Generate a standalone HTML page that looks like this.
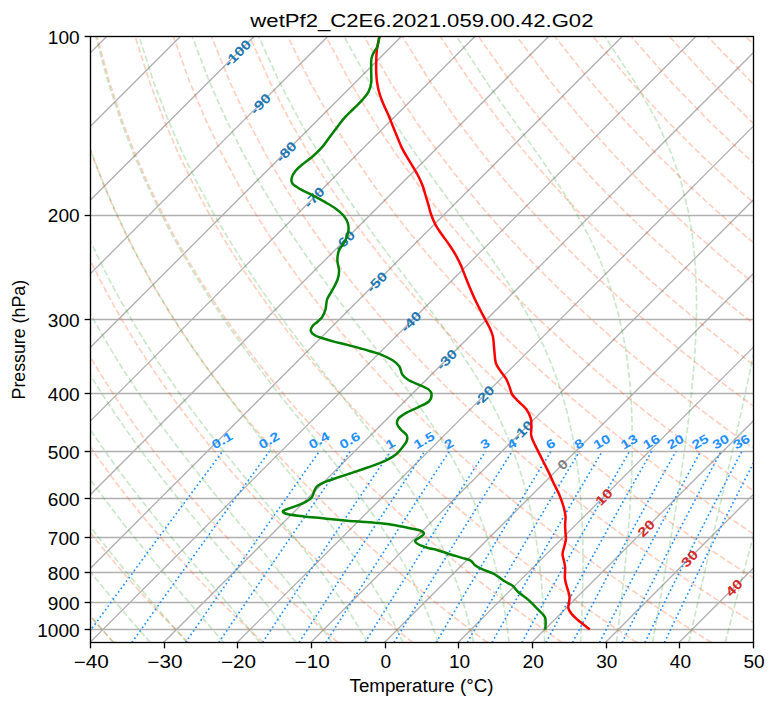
<!DOCTYPE html><html><head><meta charset="utf-8"><style>html,body{margin:0;padding:0;background:#fff;overflow:hidden}svg{display:block}</style></head><body><svg width="775" height="708" viewBox="0 0 775 708">
<style>
.g{stroke:#b0b0b0;stroke-width:1.33;fill:none}
.dry{stroke:#ff4500;stroke-opacity:0.25;stroke-width:1.67;fill:none;stroke-dasharray:6.17 2.67}
.moist{stroke:#2ca02c;stroke-opacity:0.25;stroke-width:1.67;fill:none;stroke-dasharray:6.17 2.67}
.mix{stroke:#1e90ff;stroke-width:1.67;fill:none;stroke-dasharray:1.67 2.75}
text{font-family:"Liberation Sans",sans-serif}
.tl{font-size:16.67px;fill:#000}
.ml{font-size:13.3px;font-weight:bold;fill:#1e90ff}
.il{font-size:13.3px;font-weight:bold}
</style>
<rect width="775" height="708" fill="#fff"/>
<defs><clipPath id="ax"><rect x="90.45" y="36.42" width="663.02" height="606.08"/></clipPath></defs>
<g clip-path="url(#ax)">
<line x1="-1088.55" y1="642.50" x2="-482.47" y2="36.42" class="g"/>
<line x1="-1014.90" y1="642.50" x2="-408.82" y2="36.42" class="g"/>
<line x1="-941.25" y1="642.50" x2="-335.17" y2="36.42" class="g"/>
<line x1="-867.60" y1="642.50" x2="-261.52" y2="36.42" class="g"/>
<line x1="-793.95" y1="642.50" x2="-187.87" y2="36.42" class="g"/>
<line x1="-720.30" y1="642.50" x2="-114.22" y2="36.42" class="g"/>
<line x1="-646.65" y1="642.50" x2="-40.57" y2="36.42" class="g"/>
<line x1="-573.00" y1="642.50" x2="33.08" y2="36.42" class="g"/>
<line x1="-499.35" y1="642.50" x2="106.73" y2="36.42" class="g"/>
<line x1="-425.70" y1="642.50" x2="180.38" y2="36.42" class="g"/>
<line x1="-352.05" y1="642.50" x2="254.03" y2="36.42" class="g"/>
<line x1="-278.40" y1="642.50" x2="327.68" y2="36.42" class="g"/>
<line x1="-204.75" y1="642.50" x2="401.33" y2="36.42" class="g"/>
<line x1="-131.10" y1="642.50" x2="474.98" y2="36.42" class="g"/>
<line x1="-57.45" y1="642.50" x2="548.63" y2="36.42" class="g"/>
<line x1="16.20" y1="642.50" x2="622.28" y2="36.42" class="g"/>
<line x1="89.85" y1="642.50" x2="695.93" y2="36.42" class="g"/>
<line x1="163.50" y1="642.50" x2="769.58" y2="36.42" class="g"/>
<line x1="237.15" y1="642.50" x2="843.23" y2="36.42" class="g"/>
<line x1="310.80" y1="642.50" x2="916.88" y2="36.42" class="g"/>
<line x1="384.45" y1="642.50" x2="990.53" y2="36.42" class="g"/>
<line x1="458.10" y1="642.50" x2="1064.18" y2="36.42" class="g"/>
<line x1="531.75" y1="642.50" x2="1137.83" y2="36.42" class="g"/>
<line x1="605.40" y1="642.50" x2="1211.48" y2="36.42" class="g"/>
<line x1="679.05" y1="642.50" x2="1285.13" y2="36.42" class="g"/>
<line x1="752.70" y1="642.50" x2="1358.78" y2="36.42" class="g"/>
<line x1="90.45" y1="215.50" x2="753.47" y2="215.50" class="g"/>
<line x1="90.45" y1="319.50" x2="753.47" y2="319.50" class="g"/>
<line x1="90.45" y1="393.50" x2="753.47" y2="393.50" class="g"/>
<line x1="90.45" y1="451.50" x2="753.47" y2="451.50" class="g"/>
<line x1="90.45" y1="498.50" x2="753.47" y2="498.50" class="g"/>
<line x1="90.45" y1="537.50" x2="753.47" y2="537.50" class="g"/>
<line x1="90.45" y1="572.50" x2="753.47" y2="572.50" class="g"/>
<line x1="90.45" y1="602.50" x2="753.47" y2="602.50" class="g"/>
<line x1="90.45" y1="629.50" x2="753.47" y2="629.50" class="g"/>
<polyline points="113.95,642.50 109.51,637.70 105.03,632.80 100.52,627.81 95.97,622.72 91.39,617.53 86.77,612.23 82.12,606.83 77.42,601.30 72.69,595.66 67.92,589.88 63.11,583.98 58.26,577.94 53.36,571.75 48.43,565.41 43.45,558.91 38.43,552.24 33.37,545.40 28.26,538.36 23.11,531.14 17.91,523.70 12.67,516.04 7.37,508.15 2.04,500.00 -3.35,491.60 -8.78,482.90 -14.26,473.91 -19.79,464.59 -25.36,454.92 -30.98,444.87 -36.64,434.42 -42.34,423.52 -48.08,412.14 -53.86,400.24 -59.67,387.76 -65.50,374.64 -71.35,360.83 -77.21,346.22 -83.06,330.75 -88.88,314.28 -94.66,296.69 -100.36,277.81 -105.94,257.43 -111.34,235.31 -116.49,211.11 -121.27,184.39 -125.52,154.59 -129.00,120.88 -131.31,82.10 -131.83,36.42" class="dry"/>
<polyline points="188.64,642.50 183.80,637.70 178.92,632.80 174.00,627.81 169.04,622.72 164.04,617.53 158.99,612.23 153.91,606.83 148.77,601.30 143.60,595.66 138.37,589.88 133.10,583.98 127.78,577.94 122.42,571.75 117.00,565.41 111.53,558.91 106.01,552.24 100.43,545.40 94.80,538.36 89.12,531.14 83.38,523.70 77.58,516.04 71.72,508.15 65.81,500.00 59.83,491.60 53.79,482.90 47.69,473.91 41.53,464.59 35.30,454.92 29.02,444.87 22.66,434.42 16.25,423.52 9.77,412.14 3.24,400.24 -3.36,387.76 -10.00,374.64 -16.69,360.83 -23.43,346.22 -30.19,330.75 -36.98,314.28 -43.76,296.69 -50.51,277.81 -57.20,257.43 -63.79,235.31 -70.19,211.11 -76.33,184.39 -82.04,154.59 -87.11,120.88 -91.18,82.10 -93.68,36.42" class="dry"/>
<polyline points="263.32,642.50 258.09,637.70 252.80,632.80 247.48,627.81 242.10,622.72 236.68,617.53 231.21,612.23 225.69,606.83 220.12,601.30 214.50,595.66 208.83,589.88 203.09,583.98 197.31,577.94 191.47,571.75 185.56,565.41 179.60,558.91 173.58,552.24 167.50,545.40 161.35,538.36 155.13,531.14 148.85,523.70 142.50,516.04 136.07,508.15 129.58,500.00 123.01,491.60 116.37,482.90 109.65,473.91 102.85,464.59 95.97,454.92 89.01,444.87 81.96,434.42 74.84,423.52 67.63,412.14 60.33,400.24 52.96,387.76 45.50,374.64 37.96,360.83 30.35,346.22 22.67,330.75 14.93,314.28 7.15,296.69 -0.66,277.81 -8.47,257.43 -16.23,235.31 -23.90,211.11 -31.38,184.39 -38.55,154.59 -45.22,120.88 -51.06,82.10 -55.53,36.42" class="dry"/>
<polyline points="338.01,642.50 332.37,637.70 326.69,632.80 320.96,627.81 315.17,622.72 309.33,617.53 303.43,612.23 297.48,606.83 291.47,601.30 285.41,595.66 279.28,589.88 273.09,583.98 266.83,577.94 260.52,571.75 254.13,565.41 247.68,558.91 241.15,552.24 234.56,545.40 227.89,538.36 221.14,531.14 214.32,523.70 207.41,516.04 200.42,508.15 193.35,500.00 186.19,491.60 178.94,482.90 171.60,473.91 164.16,464.59 156.63,454.92 149.00,444.87 141.26,434.42 133.43,423.52 125.48,412.14 117.43,400.24 109.27,387.76 101.00,374.64 92.61,360.83 84.13,346.22 75.53,330.75 66.84,314.28 58.05,296.69 49.19,277.81 40.27,257.43 31.32,235.31 22.40,211.11 13.57,184.39 4.93,154.59 -3.33,120.88 -10.93,82.10 -17.39,36.42" class="dry"/>
<polyline points="412.69,642.50 406.66,637.70 400.57,632.80 394.43,627.81 388.23,622.72 381.97,617.53 375.65,612.23 369.27,606.83 362.82,601.30 356.31,595.66 349.73,589.88 343.08,583.98 336.36,577.94 329.57,571.75 322.70,565.41 315.75,558.91 308.73,552.24 301.62,545.40 294.43,538.36 287.15,531.14 279.79,523.70 272.33,516.04 264.77,508.15 257.12,500.00 249.37,491.60 241.52,482.90 233.55,473.91 225.48,464.59 217.29,454.92 208.99,444.87 200.56,434.42 192.01,423.52 183.33,412.14 174.52,400.24 165.58,387.76 156.49,374.64 147.27,360.83 137.90,346.22 128.39,330.75 118.74,314.28 108.96,296.69 99.04,277.81 89.01,257.43 78.88,235.31 68.70,211.11 58.51,184.39 48.42,154.59 38.57,120.88 29.20,82.10 20.76,36.42" class="dry"/>
<polyline points="487.37,642.50 480.95,637.70 474.46,632.80 467.91,627.81 461.30,622.72 454.62,617.53 447.87,612.23 441.06,606.83 434.17,601.30 427.22,595.66 420.18,589.88 413.07,583.98 405.89,577.94 398.62,571.75 391.27,565.41 383.83,558.91 376.30,552.24 368.68,545.40 360.97,538.36 353.16,531.14 345.25,523.70 337.24,516.04 329.12,508.15 320.90,500.00 312.55,491.60 304.09,482.90 295.51,473.91 286.80,464.59 277.96,454.92 268.98,444.87 259.86,434.42 250.60,423.52 241.19,412.14 231.62,400.24 221.89,387.76 211.99,374.64 201.92,360.83 191.68,346.22 181.26,330.75 170.65,314.28 159.86,296.69 148.89,277.81 137.74,257.43 126.44,235.31 114.99,211.11 103.46,184.39 91.91,154.59 80.46,120.88 69.33,82.10 58.91,36.42" class="dry"/>
<polyline points="562.06,642.50 555.23,637.70 548.35,632.80 541.39,627.81 534.36,622.72 527.26,617.53 520.09,612.23 512.85,606.83 505.52,601.30 498.12,595.66 490.64,589.88 483.07,583.98 475.41,577.94 467.67,571.75 459.83,565.41 451.90,558.91 443.87,552.24 435.75,545.40 427.51,538.36 419.17,531.14 410.72,523.70 402.16,516.04 393.47,508.15 384.67,500.00 375.73,491.60 366.67,482.90 357.46,473.91 348.11,464.59 338.62,454.92 328.97,444.87 319.16,434.42 309.19,423.52 299.04,412.14 288.71,400.24 278.20,387.76 267.49,374.64 256.58,360.83 245.46,346.22 234.12,330.75 222.56,314.28 210.76,296.69 198.74,277.81 186.48,257.43 173.99,235.31 161.29,211.11 148.41,184.39 135.39,154.59 122.35,120.88 109.46,82.10 97.05,36.42" class="dry"/>
<polyline points="636.74,642.50 629.52,637.70 622.23,632.80 614.87,627.81 607.43,622.72 599.91,617.53 592.31,612.23 584.63,606.83 576.87,601.30 569.02,595.66 561.09,589.88 553.06,583.98 544.94,577.94 536.72,571.75 528.40,565.41 519.98,558.91 511.45,552.24 502.81,545.40 494.06,538.36 485.19,531.14 476.19,523.70 467.07,516.04 457.82,508.15 448.44,500.00 438.91,491.60 429.24,482.90 419.41,473.91 409.43,464.59 399.28,454.92 388.96,444.87 378.46,434.42 367.78,423.52 356.90,412.14 345.81,400.24 334.51,387.76 322.99,374.64 311.23,360.83 299.23,346.22 286.98,330.75 274.46,314.28 261.67,296.69 248.59,277.81 235.22,257.43 221.55,235.31 207.59,211.11 193.35,184.39 178.88,154.59 164.24,120.88 149.58,82.10 135.20,36.42" class="dry"/>
<polyline points="711.43,642.50 703.81,637.70 696.12,632.80 688.34,627.81 680.49,622.72 672.55,617.53 664.53,612.23 656.42,606.83 648.22,601.30 639.93,595.66 631.54,589.88 623.05,583.98 614.46,577.94 605.77,571.75 596.97,565.41 588.05,558.91 579.02,552.24 569.87,545.40 560.60,538.36 551.20,531.14 541.66,523.70 531.99,516.04 522.17,508.15 512.21,500.00 502.09,491.60 491.81,482.90 481.37,473.91 470.75,464.59 459.95,454.92 448.95,444.87 437.76,434.42 426.37,423.52 414.75,412.14 402.91,400.24 390.82,387.76 378.49,374.64 365.89,360.83 353.01,346.22 339.84,330.75 326.37,314.28 312.57,296.69 298.44,277.81 283.95,257.43 269.10,235.31 253.88,211.11 238.30,184.39 222.36,154.59 206.13,120.88 189.71,82.10 173.35,36.42" class="dry"/>
<polyline points="786.11,642.50 778.10,637.70 770.00,632.80 761.82,627.81 753.56,622.72 745.20,617.53 736.75,612.23 728.21,606.83 719.57,601.30 710.83,595.66 701.99,589.88 693.05,583.98 683.99,577.94 674.82,571.75 665.53,565.41 656.13,558.91 646.60,552.24 636.93,545.40 627.14,538.36 617.21,531.14 607.13,523.70 596.90,516.04 586.52,508.15 575.98,500.00 565.27,491.60 554.39,482.90 543.32,473.91 532.06,464.59 520.61,454.92 508.95,444.87 497.06,434.42 484.95,423.52 472.60,412.14 460.00,400.24 447.13,387.76 433.99,374.64 420.54,360.83 406.79,346.22 392.71,330.75 378.27,314.28 363.48,296.69 348.29,277.81 332.69,257.43 316.66,235.31 300.18,211.11 283.24,184.39 265.85,154.59 248.02,120.88 229.84,82.10 211.50,36.42" class="dry"/>
<polyline points="860.79,642.50 852.38,637.70 843.89,632.80 835.30,627.81 826.62,622.72 817.84,617.53 808.97,612.23 800.00,606.83 790.92,601.30 781.74,595.66 772.45,589.88 763.04,583.98 753.52,577.94 743.87,571.75 734.10,565.41 724.20,558.91 714.17,552.24 704.00,545.40 693.68,538.36 683.22,531.14 672.60,523.70 661.82,516.04 650.87,508.15 639.75,500.00 628.45,491.60 616.96,482.90 605.28,473.91 593.38,464.59 581.27,454.92 568.94,444.87 556.36,434.42 543.54,423.52 530.46,412.14 517.10,400.24 503.44,387.76 489.48,374.64 475.20,360.83 460.57,346.22 445.57,330.75 430.18,314.28 414.38,296.69 398.14,277.81 381.42,257.43 364.21,235.31 346.48,211.11 328.19,184.39 309.33,154.59 289.91,120.88 269.97,82.10 249.64,36.42" class="dry"/>
<polyline points="935.48,642.50 926.67,637.70 917.77,632.80 908.78,627.81 899.68,622.72 890.49,617.53 881.19,612.23 871.79,606.83 862.27,601.30 852.64,595.66 842.90,589.88 833.03,583.98 823.04,577.94 812.92,571.75 802.67,565.41 792.28,558.91 781.74,552.24 771.06,545.40 760.22,538.36 749.23,531.14 738.07,523.70 726.74,516.04 715.22,508.15 703.53,500.00 691.63,491.60 679.54,482.90 667.23,473.91 654.70,464.59 641.94,454.92 628.93,444.87 615.66,434.42 602.13,423.52 588.31,412.14 574.19,400.24 559.76,387.76 544.98,374.64 529.85,360.83 514.34,346.22 498.43,330.75 482.09,314.28 465.28,296.69 447.99,277.81 430.16,257.43 411.77,235.31 392.78,211.11 373.14,184.39 352.82,154.59 331.80,120.88 310.09,82.10 287.79,36.42" class="dry"/>
<polyline points="1010.16,642.50 1000.96,637.70 991.66,632.80 982.25,627.81 972.75,622.72 963.14,617.53 953.41,612.23 943.58,606.83 933.62,601.30 923.55,595.66 913.35,589.88 903.03,583.98 892.57,577.94 881.97,571.75 871.23,565.41 860.35,558.91 849.32,552.24 838.12,545.40 826.77,538.36 815.24,531.14 803.54,523.70 791.65,516.04 779.57,508.15 767.30,500.00 754.81,491.60 742.11,482.90 729.18,473.91 716.02,464.59 702.60,454.92 688.92,444.87 674.96,434.42 660.72,423.52 646.16,412.14 631.29,400.24 616.07,387.76 600.48,374.64 584.51,360.83 568.12,346.22 551.29,330.75 533.99,314.28 516.19,296.69 497.84,277.81 478.90,257.43 459.33,235.31 439.07,211.11 418.08,184.39 396.31,154.59 373.69,120.88 350.22,82.10 325.94,36.42" class="dry"/>
<polyline points="1084.85,642.50 1075.25,637.70 1065.54,632.80 1055.73,627.81 1045.81,622.72 1035.78,617.53 1025.63,612.23 1015.36,606.83 1004.97,601.30 994.45,595.66 983.80,589.88 973.02,583.98 962.09,577.94 951.02,571.75 939.80,565.41 928.43,558.91 916.89,552.24 905.19,545.40 893.31,538.36 881.25,531.14 869.01,523.70 856.57,516.04 843.92,508.15 831.07,500.00 817.99,491.60 804.69,482.90 791.14,473.91 777.33,464.59 763.26,454.92 748.91,444.87 734.26,434.42 719.31,423.52 704.02,412.14 688.38,400.24 672.38,387.76 655.98,374.64 639.16,360.83 621.90,346.22 604.16,330.75 585.90,314.28 567.09,296.69 547.69,277.81 527.63,257.43 506.88,235.31 485.37,211.11 463.03,184.39 439.79,154.59 415.58,120.88 390.35,82.10 364.08,36.42" class="dry"/>
<polyline points="1159.53,642.50 1149.53,637.70 1139.43,632.80 1129.21,627.81 1118.88,622.72 1108.43,617.53 1097.85,612.23 1087.15,606.83 1076.32,601.30 1065.36,595.66 1054.26,589.88 1043.01,583.98 1031.62,577.94 1020.07,571.75 1008.37,565.41 996.50,558.91 984.46,552.24 972.25,545.40 959.85,538.36 947.26,531.14 934.48,523.70 921.48,516.04 908.27,508.15 894.84,500.00 881.17,491.60 867.26,482.90 853.09,473.91 838.65,464.59 823.92,454.92 808.90,444.87 793.56,434.42 777.89,423.52 761.87,412.14 745.48,400.24 728.69,387.76 711.48,374.64 693.82,360.83 675.68,346.22 657.02,330.75 637.81,314.28 617.99,296.69 597.53,277.81 576.37,257.43 554.44,235.31 531.67,211.11 507.98,184.39 483.28,154.59 457.47,120.88 430.48,82.10 402.23,36.42" class="dry"/>
<polyline points="1234.21,642.50 1223.82,637.70 1213.31,632.80 1202.69,627.81 1191.94,622.72 1181.07,617.53 1170.07,612.23 1158.94,606.83 1147.67,601.30 1136.26,595.66 1124.71,589.88 1113.00,583.98 1101.14,577.94 1089.12,571.75 1076.94,565.41 1064.58,558.91 1052.04,552.24 1039.31,545.40 1026.39,538.36 1013.27,531.14 999.94,523.70 986.40,516.04 972.62,508.15 958.61,500.00 944.35,491.60 929.83,482.90 915.04,473.91 899.97,464.59 884.59,454.92 868.89,444.87 852.86,434.42 836.48,423.52 819.73,412.14 802.57,400.24 785.00,387.76 766.98,374.64 748.47,360.83 729.45,346.22 709.88,330.75 689.71,314.28 668.90,296.69 647.38,277.81 625.11,257.43 601.99,235.31 577.96,211.11 552.92,184.39 526.76,154.59 499.37,120.88 470.61,82.10 440.38,36.42" class="dry"/>
<polyline points="1308.90,642.50 1298.11,637.70 1287.20,632.80 1276.17,627.81 1265.01,622.72 1253.72,617.53 1242.29,612.23 1230.73,606.83 1219.02,601.30 1207.17,595.66 1195.16,589.88 1183.00,583.98 1170.67,577.94 1158.17,571.75 1145.50,565.41 1132.65,558.91 1119.61,552.24 1106.37,545.40 1092.93,538.36 1079.28,531.14 1065.41,523.70 1051.31,516.04 1036.97,508.15 1022.38,500.00 1007.53,491.60 992.41,482.90 977.00,473.91 961.28,464.59 945.25,454.92 928.88,444.87 912.16,434.42 895.07,423.52 877.58,412.14 859.67,400.24 841.31,387.76 822.47,374.64 803.13,360.83 783.23,346.22 762.74,330.75 741.62,314.28 719.80,296.69 697.23,277.81 673.84,257.43 649.55,235.31 624.26,211.11 597.87,184.39 570.25,154.59 541.26,120.88 510.73,82.10 478.52,36.42" class="dry"/>
<polyline points="1383.58,642.50 1372.39,637.70 1361.08,632.80 1349.64,627.81 1338.07,622.72 1326.36,617.53 1314.51,612.23 1302.52,606.83 1290.37,601.30 1278.07,595.66 1265.61,589.88 1252.99,583.98 1240.20,577.94 1227.22,571.75 1214.07,565.41 1200.72,558.91 1187.18,552.24 1173.44,545.40 1159.48,538.36 1145.29,531.14 1130.88,523.70 1116.23,516.04 1101.32,508.15 1086.16,500.00 1070.71,491.60 1054.98,482.90 1038.95,473.91 1022.60,464.59 1005.91,454.92 988.87,444.87 971.46,434.42 953.66,423.52 935.43,412.14 916.76,400.24 897.62,387.76 877.97,374.64 857.78,360.83 837.01,346.22 815.61,330.75 793.53,314.28 770.71,296.69 747.08,277.81 722.58,257.43 697.11,235.31 670.56,211.11 642.81,184.39 613.73,154.59 583.15,120.88 550.86,82.10 516.67,36.42" class="dry"/>
<polyline points="1458.26,642.50 1446.68,637.70 1434.97,632.80 1423.12,627.81 1411.14,622.72 1399.01,617.53 1386.73,612.23 1374.31,606.83 1361.72,601.30 1348.98,595.66 1336.07,589.88 1322.98,583.98 1309.72,577.94 1296.28,571.75 1282.64,565.41 1268.80,558.91 1254.76,552.24 1240.50,545.40 1226.02,538.36 1211.31,531.14 1196.35,523.70 1181.14,516.04 1165.67,508.15 1149.93,500.00 1133.89,491.60 1117.56,482.90 1100.90,473.91 1083.92,464.59 1066.58,454.92 1048.87,444.87 1030.76,434.42 1012.25,423.52 993.29,412.14 973.86,400.24 953.93,387.76 933.47,374.64 912.44,360.83 890.78,346.22 868.47,330.75 845.43,314.28 821.61,296.69 796.93,277.81 771.32,257.43 744.66,235.31 716.86,211.11 687.76,184.39 657.22,154.59 625.04,120.88 590.99,82.10 554.82,36.42" class="dry"/>
<polyline points="1532.95,642.50 1520.97,637.70 1508.85,632.80 1496.60,627.81 1484.20,622.72 1471.65,617.53 1458.95,612.23 1446.09,606.83 1433.07,601.30 1419.88,595.66 1406.52,589.88 1392.98,583.98 1379.25,577.94 1365.33,571.75 1351.20,565.41 1336.87,558.91 1322.33,552.24 1307.56,545.40 1292.56,538.36 1277.32,531.14 1261.82,523.70 1246.06,516.04 1230.02,508.15 1213.70,500.00 1197.07,491.60 1180.13,482.90 1162.86,473.91 1145.23,464.59 1127.24,454.92 1108.86,444.87 1090.06,434.42 1070.83,423.52 1051.14,412.14 1030.96,400.24 1010.24,387.76 988.97,374.64 967.09,360.83 944.56,346.22 921.33,330.75 897.34,314.28 872.51,296.69 846.78,277.81 820.05,257.43 792.22,235.31 763.15,211.11 732.71,184.39 700.70,154.59 666.93,120.88 631.12,82.10 592.96,36.42" class="dry"/>
<polyline points="1607.63,642.50 1595.26,637.70 1582.74,632.80 1570.08,627.81 1557.26,622.72 1544.30,617.53 1531.17,612.23 1517.88,606.83 1504.42,601.30 1490.79,595.66 1476.97,589.88 1462.97,583.98 1448.77,577.94 1434.38,571.75 1419.77,565.41 1404.95,558.91 1389.90,552.24 1374.62,545.40 1359.10,538.36 1343.33,531.14 1327.29,523.70 1310.98,516.04 1294.37,508.15 1277.47,500.00 1260.25,491.60 1242.71,482.90 1224.81,473.91 1206.55,464.59 1187.90,454.92 1168.85,444.87 1149.36,434.42 1129.42,423.52 1108.99,412.14 1088.05,400.24 1066.55,387.76 1044.47,374.64 1021.75,360.83 998.34,346.22 974.19,330.75 949.24,314.28 923.42,296.69 896.63,277.81 868.79,257.43 839.77,235.31 809.45,211.11 777.65,184.39 744.19,154.59 708.82,120.88 671.25,82.10 631.11,36.42" class="dry"/>
<polyline points="1682.32,642.50 1669.54,637.70 1656.62,632.80 1643.55,627.81 1630.33,622.72 1616.94,617.53 1603.39,612.23 1589.67,606.83 1575.77,601.30 1561.69,595.66 1547.43,589.88 1532.96,583.98 1518.30,577.94 1503.43,571.75 1488.34,565.41 1473.02,558.91 1457.48,552.24 1441.69,545.40 1425.64,538.36 1409.34,531.14 1392.76,523.70 1375.89,516.04 1358.72,508.15 1341.24,500.00 1323.44,491.60 1305.28,482.90 1286.76,473.91 1267.87,464.59 1248.57,454.92 1228.84,444.87 1208.66,434.42 1188.01,423.52 1166.85,412.14 1145.15,400.24 1122.87,387.76 1099.97,374.64 1076.40,360.83 1052.12,346.22 1027.06,330.75 1001.15,314.28 974.32,296.69 946.48,277.81 917.53,257.43 887.33,235.31 855.75,211.11 822.60,184.39 787.68,154.59 750.71,120.88 711.37,82.10 669.26,36.42" class="dry"/>
<polyline points="1757.00,642.50 1743.83,637.70 1730.51,632.80 1717.03,627.81 1703.39,622.72 1689.59,617.53 1675.61,612.23 1661.46,606.83 1647.12,601.30 1632.60,595.66 1617.88,589.88 1602.96,583.98 1587.83,577.94 1572.48,571.75 1556.90,565.41 1541.10,558.91 1525.05,552.24 1508.75,545.40 1492.19,538.36 1475.35,531.14 1458.23,523.70 1440.81,516.04 1423.07,508.15 1405.02,500.00 1386.62,491.60 1367.86,482.90 1348.72,473.91 1329.18,464.59 1309.23,454.92 1288.83,444.87 1267.96,434.42 1246.60,423.52 1224.70,412.14 1202.24,400.24 1179.18,387.76 1155.46,374.64 1131.05,360.83 1105.89,346.22 1079.92,330.75 1053.06,314.28 1025.23,296.69 996.33,277.81 966.26,257.43 934.89,235.31 902.04,211.11 867.55,184.39 831.16,154.59 792.60,120.88 751.50,82.10 707.40,36.42" class="dry"/>
<polyline points="1831.68,642.50 1818.12,637.70 1804.39,632.80 1790.51,627.81 1776.46,622.72 1762.23,617.53 1747.83,612.23 1733.25,606.83 1718.47,601.30 1703.50,595.66 1688.33,589.88 1672.95,583.98 1657.35,577.94 1641.53,571.75 1625.47,565.41 1609.17,558.91 1592.62,552.24 1575.81,545.40 1558.73,538.36 1541.36,531.14 1523.70,523.70 1505.72,516.04 1487.42,508.15 1468.79,500.00 1449.80,491.60 1430.43,482.90 1410.67,473.91 1390.50,464.59 1369.89,454.92 1348.82,444.87 1327.26,434.42 1305.19,423.52 1282.56,412.14 1259.34,400.24 1235.49,387.76 1210.96,374.64 1185.71,360.83 1159.67,346.22 1132.78,330.75 1104.96,314.28 1076.13,296.69 1046.18,277.81 1015.00,257.43 982.44,235.31 948.34,211.11 912.49,184.39 874.65,154.59 834.49,120.88 791.63,82.10 745.55,36.42" class="dry"/>
<polyline points="1906.37,642.50 1892.41,637.70 1878.28,632.80 1863.99,627.81 1849.52,622.72 1834.88,617.53 1820.05,612.23 1805.03,606.83 1789.82,601.30 1774.41,595.66 1758.78,589.88 1742.94,583.98 1726.88,577.94 1710.58,571.75 1694.04,565.41 1677.25,558.91 1660.20,552.24 1642.87,545.40 1625.27,538.36 1607.37,531.14 1589.16,523.70 1570.64,516.04 1551.77,508.15 1532.56,500.00 1512.98,491.60 1493.00,482.90 1472.63,473.91 1451.82,464.59 1430.55,454.92 1408.81,444.87 1386.56,434.42 1363.77,423.52 1340.41,412.14 1316.43,400.24 1291.80,387.76 1266.46,374.64 1240.36,360.83 1213.45,346.22 1185.64,330.75 1156.87,314.28 1127.03,296.69 1096.03,277.81 1063.74,257.43 1030.00,235.31 994.64,211.11 957.44,184.39 918.13,154.59 876.38,120.88 831.76,82.10 783.70,36.42" class="dry"/>
<polyline points="1981.05,642.50 1966.69,637.70 1952.17,632.80 1937.46,627.81 1922.59,622.72 1907.52,617.53 1892.27,612.23 1876.82,606.83 1861.17,601.30 1845.31,595.66 1829.24,589.88 1812.94,583.98 1796.40,577.94 1779.63,571.75 1762.61,565.41 1745.32,558.91 1727.77,552.24 1709.94,545.40 1691.81,538.36 1673.38,531.14 1654.63,523.70 1635.55,516.04 1616.12,508.15 1596.33,500.00 1576.16,491.60 1555.58,482.90 1534.58,473.91 1513.13,464.59 1491.22,454.92 1468.80,444.87 1445.86,434.42 1422.36,423.52 1398.26,412.14 1373.53,400.24 1348.11,387.76 1321.96,374.64 1295.02,360.83 1267.23,346.22 1238.51,330.75 1208.78,314.28 1177.94,296.69 1145.88,277.81 1112.47,257.43 1077.55,235.31 1040.93,211.11 1002.38,184.39 961.62,154.59 918.27,120.88 871.89,82.10 821.84,36.42" class="dry"/>
<polyline points="2055.74,642.50 2040.98,637.70 2026.05,632.80 2010.94,627.81 1995.65,622.72 1980.17,617.53 1964.49,612.23 1948.61,606.83 1932.52,601.30 1916.22,595.66 1899.69,589.88 1882.93,583.98 1865.93,577.94 1848.68,571.75 1831.17,565.41 1813.40,558.91 1795.34,552.24 1777.00,545.40 1758.35,538.36 1739.39,531.14 1720.10,523.70 1700.47,516.04 1680.47,508.15 1660.10,500.00 1639.34,491.60 1618.15,482.90 1596.53,473.91 1574.45,464.59 1551.88,454.92 1528.80,444.87 1505.16,434.42 1480.95,423.52 1456.12,412.14 1430.62,400.24 1404.42,387.76 1377.46,374.64 1349.67,360.83 1321.00,346.22 1291.37,330.75 1260.68,314.28 1228.84,296.69 1195.73,277.81 1161.21,257.43 1125.11,235.31 1087.23,211.11 1047.33,184.39 1005.10,154.59 960.16,120.88 912.01,82.10 859.99,36.42" class="dry"/>
<polyline points="2130.42,642.50 2115.27,637.70 2099.94,632.80 2084.42,627.81 2068.72,622.72 2052.81,617.53 2036.71,612.23 2020.40,606.83 2003.87,601.30 1987.12,595.66 1970.14,589.88 1952.92,583.98 1935.45,577.94 1917.73,571.75 1899.74,565.41 1881.47,558.91 1862.92,552.24 1844.06,545.40 1824.90,538.36 1805.40,531.14 1785.57,523.70 1765.38,516.04 1744.82,508.15 1723.87,500.00 1702.52,491.60 1680.73,482.90 1658.49,473.91 1635.77,464.59 1612.54,454.92 1588.79,444.87 1564.46,434.42 1539.54,423.52 1513.97,412.14 1487.72,400.24 1460.73,387.76 1432.96,374.64 1404.33,360.83 1374.78,346.22 1344.23,330.75 1312.59,314.28 1279.75,296.69 1245.58,277.81 1209.95,257.43 1172.66,235.31 1133.53,211.11 1092.28,184.39 1048.59,154.59 1002.06,120.88 952.14,82.10 898.14,36.42" class="dry"/>
<polyline points="2205.10,642.50 2189.55,637.70 2173.82,632.80 2157.90,627.81 2141.78,622.72 2125.46,617.53 2108.93,612.23 2092.19,606.83 2075.22,601.30 2058.03,595.66 2040.59,589.88 2022.91,583.98 2004.98,577.94 1986.78,571.75 1968.31,565.41 1949.55,558.91 1930.49,552.24 1911.13,545.40 1891.44,538.36 1871.41,531.14 1851.04,523.70 1830.30,516.04 1809.17,508.15 1787.65,500.00 1765.70,491.60 1743.30,482.90 1720.44,473.91 1697.08,464.59 1673.21,454.92 1648.78,444.87 1623.76,434.42 1598.13,423.52 1571.82,412.14 1544.81,400.24 1517.04,387.76 1488.45,374.64 1458.98,360.83 1428.56,346.22 1397.09,330.75 1364.49,314.28 1330.65,296.69 1295.43,277.81 1258.68,257.43 1220.22,235.31 1179.83,211.11 1137.22,184.39 1092.08,154.59 1043.95,120.88 992.27,82.10 936.28,36.42" class="dry"/>
<polyline points="2279.79,642.50 2263.84,637.70 2247.71,632.80 2231.38,627.81 2214.84,622.72 2198.10,617.53 2181.15,612.23 2163.98,606.83 2146.57,601.30 2128.93,595.66 2111.05,589.88 2092.91,583.98 2074.51,577.94 2055.83,571.75 2036.87,565.41 2017.62,558.91 1998.06,552.24 1978.19,545.40 1957.98,538.36 1937.43,531.14 1916.51,523.70 1895.21,516.04 1873.52,508.15 1851.42,500.00 1828.88,491.60 1805.88,482.90 1782.39,473.91 1758.40,464.59 1733.87,454.92 1708.77,444.87 1683.06,434.42 1656.71,423.52 1629.68,412.14 1601.91,400.24 1573.35,387.76 1543.95,374.64 1513.64,360.83 1482.34,346.22 1449.96,330.75 1416.40,314.28 1381.55,296.69 1345.28,277.81 1307.42,257.43 1267.78,235.31 1226.12,211.11 1182.17,184.39 1135.56,154.59 1085.84,120.88 1032.40,82.10 974.43,36.42" class="dry"/>
<polyline points="113.29,642.50 109.12,637.70 104.90,632.80 100.62,627.81 96.28,622.72 91.89,617.53 87.45,612.23 82.95,606.83 78.39,601.30 73.79,595.66 69.13,589.88 64.42,583.98 59.65,577.94 54.83,571.75 49.96,565.41 45.04,558.91 40.07,552.24 35.04,545.40 29.96,538.36 24.83,531.14 19.65,523.70 14.42,516.04 9.14,508.15 3.80,500.00 -1.59,491.60 -7.02,482.90 -12.51,473.91 -18.04,464.59 -23.63,454.92 -29.26,444.87 -34.94,434.42 -40.66,423.52 -46.42,412.14 -52.22,400.24 -58.04,387.76 -63.90,374.64 -69.77,360.83 -75.66,346.22 -81.53,330.75 -87.39,314.28 -93.19,296.69 -98.92,277.81 -104.54,257.43 -109.97,235.31 -115.16,211.11 -119.98,184.39 -124.27,154.59 -127.79,120.88 -130.16,82.10 -130.73,36.42" class="moist"/>
<polyline points="150.25,642.50 146.04,637.70 141.76,632.80 137.41,627.81 133.00,622.72 128.52,617.53 123.97,612.23 119.35,606.83 114.67,601.30 109.93,595.66 105.12,589.88 100.24,583.98 95.30,577.94 90.30,571.75 85.23,565.41 80.11,558.91 74.92,552.24 69.66,545.40 64.35,538.36 58.97,531.14 53.54,523.70 48.04,516.04 42.48,508.15 36.86,500.00 31.18,491.60 25.44,482.90 19.64,473.91 13.78,464.59 7.86,454.92 1.89,444.87 -4.14,434.42 -10.23,423.52 -16.37,412.14 -22.56,400.24 -28.80,387.76 -35.07,374.64 -41.39,360.83 -47.72,346.22 -54.07,330.75 -60.42,314.28 -66.75,296.69 -73.03,277.81 -79.22,257.43 -85.27,235.31 -91.11,211.11 -96.63,184.39 -101.68,154.59 -106.03,120.88 -109.31,82.10 -110.91,36.42" class="moist"/>
<polyline points="187.04,642.50 182.85,637.70 178.58,632.80 174.23,627.81 169.80,622.72 165.28,617.53 160.69,612.23 156.01,606.83 151.25,601.30 146.41,595.66 141.49,589.88 136.49,583.98 131.41,577.94 126.26,571.75 121.03,565.41 115.72,558.91 110.34,552.24 104.88,545.40 99.35,538.36 93.74,531.14 88.06,523.70 82.31,516.04 76.48,508.15 70.58,500.00 64.61,491.60 58.57,482.90 52.46,473.91 46.27,464.59 40.02,454.92 33.70,444.87 27.31,434.42 20.85,423.52 14.32,412.14 7.73,400.24 1.08,387.76 -5.62,374.64 -12.38,360.83 -19.19,346.22 -26.02,330.75 -32.88,314.28 -39.74,296.69 -46.58,277.81 -53.36,257.43 -60.03,235.31 -66.54,211.11 -72.78,184.39 -78.60,154.59 -83.80,120.88 -88.02,82.10 -90.67,36.42" class="moist"/>
<polyline points="223.61,642.50 219.54,637.70 215.36,632.80 211.09,627.81 206.72,622.72 202.24,617.53 197.67,612.23 193.00,606.83 188.23,601.30 183.36,595.66 178.40,589.88 173.33,583.98 168.17,577.94 162.91,571.75 157.56,565.41 152.11,558.91 146.58,552.24 140.94,545.40 135.22,538.36 129.41,531.14 123.51,523.70 117.51,516.04 111.44,508.15 105.27,500.00 99.02,491.60 92.68,482.90 86.26,473.91 79.75,464.59 73.16,454.92 66.48,444.87 59.73,434.42 52.89,423.52 45.97,412.14 38.97,400.24 31.90,387.76 24.75,374.64 17.53,360.83 10.25,346.22 2.91,330.75 -4.47,314.28 -11.87,296.69 -19.29,277.81 -26.68,257.43 -34.00,235.31 -41.20,211.11 -48.17,184.39 -54.80,154.59 -60.87,120.88 -66.05,82.10 -69.79,36.42" class="moist"/>
<polyline points="259.94,642.50 256.07,637.70 252.09,632.80 247.99,627.81 243.77,622.72 239.44,617.53 234.99,612.23 230.42,606.83 225.73,601.30 220.92,595.66 215.99,589.88 210.95,583.98 205.78,577.94 200.49,571.75 195.09,565.41 189.57,558.91 183.93,552.24 178.18,545.40 172.32,538.36 166.34,531.14 160.25,523.70 154.05,516.04 147.75,508.15 141.33,500.00 134.82,491.60 128.19,482.90 121.47,473.91 114.64,464.59 107.71,454.92 100.68,444.87 93.56,434.42 86.33,423.52 79.00,412.14 71.58,400.24 64.07,387.76 56.46,374.64 48.77,360.83 40.99,346.22 33.13,330.75 25.21,314.28 17.23,296.69 9.21,277.81 1.18,257.43 -6.81,235.31 -14.73,211.11 -22.48,184.39 -29.94,154.59 -36.92,120.88 -43.11,82.10 -47.98,36.42" class="moist"/>
<polyline points="296.00,642.50 292.43,637.70 288.74,632.80 284.93,627.81 280.98,622.72 276.90,617.53 272.69,612.23 268.34,606.83 263.85,601.30 259.22,595.66 254.44,589.88 249.53,583.98 244.46,577.94 239.25,571.75 233.90,565.41 228.40,558.91 222.76,552.24 216.97,545.40 211.04,538.36 204.97,531.14 198.76,523.70 192.41,516.04 185.92,508.15 179.30,500.00 172.55,491.60 165.67,482.90 158.66,473.91 151.53,464.59 144.27,454.92 136.89,444.87 129.39,434.42 121.77,423.52 114.02,412.14 106.17,400.24 98.19,387.76 90.11,374.64 81.91,360.83 73.60,346.22 65.20,330.75 56.69,314.28 48.11,296.69 39.45,277.81 30.75,257.43 22.04,235.31 13.36,211.11 4.79,184.39 -3.56,154.59 -11.50,120.88 -18.76,82.10 -24.83,36.42" class="moist"/>
<polyline points="331.80,642.50 328.64,637.70 325.34,632.80 321.92,627.81 318.35,622.72 314.65,617.53 310.80,612.23 306.80,606.83 302.65,601.30 298.33,595.66 293.85,589.88 289.21,583.98 284.40,577.94 279.41,571.75 274.25,565.41 268.91,558.91 263.39,552.24 257.70,545.40 251.83,538.36 245.78,531.14 239.55,523.70 233.14,516.04 226.57,508.15 219.82,500.00 212.90,491.60 205.82,482.90 198.57,473.91 191.16,464.59 183.60,454.92 175.88,444.87 168.01,434.42 159.99,423.52 151.83,412.14 143.52,400.24 135.06,387.76 126.47,374.64 117.74,360.83 108.87,346.22 99.87,330.75 90.75,314.28 81.51,296.69 72.16,277.81 62.73,257.43 53.25,235.31 43.74,211.11 34.29,184.39 24.98,154.59 15.99,120.88 7.57,82.10 0.20,36.42" class="moist"/>
<polyline points="367.39,642.50 364.70,637.70 361.89,632.80 358.95,627.81 355.87,622.72 352.66,617.53 349.29,612.23 345.78,606.83 342.10,601.30 338.25,595.66 334.23,589.88 330.03,583.98 325.64,577.94 321.06,571.75 316.27,565.41 311.28,558.91 306.09,552.24 300.67,545.40 295.04,538.36 289.19,531.14 283.12,523.70 276.83,516.04 270.31,508.15 263.57,500.00 256.61,491.60 249.44,482.90 242.05,473.91 234.45,464.59 226.64,454.92 218.64,444.87 210.43,434.42 202.04,423.52 193.45,412.14 184.68,400.24 175.73,387.76 166.60,374.64 157.30,360.83 147.83,346.22 138.19,330.75 128.39,314.28 118.43,296.69 108.33,277.81 98.09,257.43 87.75,235.31 77.34,211.11 66.90,184.39 56.54,154.59 46.38,120.88 36.69,82.10 27.88,36.42" class="moist"/>
<polyline points="402.82,642.50 400.66,637.70 398.39,632.80 396.01,627.81 393.50,622.72 390.86,617.53 388.09,612.23 385.17,606.83 382.09,601.30 378.85,595.66 375.44,589.88 371.85,583.98 368.07,577.94 364.09,571.75 359.89,565.41 355.48,558.91 350.83,552.24 345.94,545.40 340.81,538.36 335.41,531.14 329.76,523.70 323.83,516.04 317.62,508.15 311.13,500.00 304.36,491.60 297.31,482.90 289.97,473.91 282.35,464.59 274.46,454.92 266.29,444.87 257.86,434.42 249.16,423.52 240.21,412.14 231.01,400.24 221.57,387.76 211.90,374.64 202.00,360.83 191.88,346.22 181.54,330.75 170.99,314.28 160.23,296.69 149.28,277.81 138.14,257.43 126.83,235.31 115.38,211.11 103.84,184.39 92.28,154.59 80.81,120.88 69.67,82.10 59.23,36.42" class="moist"/>
<polyline points="438.20,642.50 436.58,637.70 434.88,632.80 433.08,627.81 431.18,622.72 429.17,617.53 427.05,612.23 424.80,606.83 422.41,601.30 419.88,595.66 417.20,589.88 414.36,583.98 411.33,577.94 408.12,571.75 404.71,565.41 401.09,558.91 397.24,552.24 393.14,545.40 388.79,538.36 384.16,531.14 379.24,523.70 374.02,516.04 368.49,508.15 362.62,500.00 356.41,491.60 349.84,482.90 342.91,473.91 335.61,464.59 327.94,454.92 319.90,444.87 311.49,434.42 302.71,423.52 293.57,412.14 284.08,400.24 274.25,387.76 264.09,374.64 253.61,360.83 242.82,346.22 231.74,330.75 220.37,314.28 208.73,296.69 196.81,277.81 184.64,257.43 172.22,235.31 159.58,211.11 146.75,184.39 133.79,154.59 120.81,120.88 107.98,82.10 95.65,36.42" class="moist"/>
<polyline points="473.59,642.50 472.51,637.70 471.37,632.80 470.16,627.81 468.86,622.72 467.49,617.53 466.03,612.23 464.47,606.83 462.80,601.30 461.02,595.66 459.12,589.88 457.09,583.98 454.91,577.94 452.58,571.75 450.08,565.41 447.40,558.91 444.52,552.24 441.43,545.40 438.10,538.36 434.52,531.14 430.66,523.70 426.52,516.04 422.05,508.15 417.24,500.00 412.06,491.60 406.49,482.90 400.50,473.91 394.08,464.59 387.19,454.92 379.83,444.87 371.97,434.42 363.60,423.52 354.72,412.14 345.34,400.24 335.45,387.76 325.06,374.64 314.20,360.83 302.88,346.22 291.11,330.75 278.92,314.28 266.32,296.69 253.34,277.81 239.98,257.43 226.28,235.31 212.24,211.11 197.89,184.39 183.27,154.59 168.48,120.88 153.65,82.10 139.06,36.42" class="moist"/>
<polyline points="509.07,642.50 508.50,637.70 507.88,632.80 507.22,627.81 506.50,622.72 505.73,617.53 504.89,612.23 503.99,606.83 503.02,601.30 501.97,595.66 500.84,589.88 499.61,583.98 498.28,577.94 496.83,571.75 495.27,565.41 493.57,558.91 491.72,552.24 489.71,545.40 487.53,538.36 485.14,531.14 482.54,523.70 479.69,516.04 476.58,508.15 473.18,500.00 469.45,491.60 465.37,482.90 460.89,473.91 455.97,464.59 450.58,454.92 444.67,444.87 438.20,434.42 431.12,423.52 423.40,412.14 414.99,400.24 405.87,387.76 396.02,374.64 385.44,360.83 374.12,346.22 362.08,330.75 349.35,314.28 335.96,296.69 321.95,277.81 307.34,257.43 292.19,235.31 276.52,211.11 260.35,184.39 243.74,154.59 226.75,120.88 209.47,82.10 192.13,36.42" class="moist"/>
<polyline points="544.69,642.50 544.57,637.70 544.42,632.80 544.25,627.81 544.05,622.72 543.82,617.53 543.55,612.23 543.25,606.83 542.90,601.30 542.51,595.66 542.07,589.88 541.57,583.98 541.01,577.94 540.39,571.75 539.69,565.41 538.91,558.91 538.03,552.24 537.05,545.40 535.96,538.36 534.74,531.14 533.38,523.70 531.86,516.04 530.15,508.15 528.25,500.00 526.12,491.60 523.72,482.90 521.04,473.91 518.02,464.59 514.63,454.92 510.80,444.87 506.49,434.42 501.63,423.52 496.15,412.14 489.96,400.24 482.98,387.76 475.12,374.64 466.30,360.83 456.45,346.22 445.50,330.75 433.42,314.28 420.19,296.69 405.84,277.81 390.42,257.43 373.99,235.31 356.63,211.11 338.42,184.39 319.43,154.59 299.73,120.88 279.41,82.10 258.63,36.42" class="moist"/>
<polyline points="580.48,642.50 580.74,637.70 581.00,632.80 581.26,627.81 581.50,622.72 581.73,617.53 581.95,612.23 582.16,606.83 582.35,601.30 582.52,595.66 582.67,589.88 582.80,583.98 582.90,577.94 582.97,571.75 583.01,565.41 583.01,558.91 582.97,552.24 582.88,545.40 582.74,538.36 582.53,531.14 582.25,523.70 581.88,516.04 581.43,508.15 580.86,500.00 580.17,491.60 579.34,482.90 578.35,473.91 577.16,464.59 575.75,454.92 574.08,444.87 572.11,434.42 569.78,423.52 567.03,412.14 563.78,400.24 559.94,387.76 555.41,374.64 550.04,360.83 543.69,346.22 536.18,330.75 527.33,314.28 516.93,296.69 504.80,277.81 490.80,257.43 474.86,235.31 457.01,211.11 437.34,184.39 416.02,154.59 393.26,120.88 369.22,82.10 344.08,36.42" class="moist"/>
<polyline points="616.44,642.50 617.03,637.70 617.63,632.80 618.23,627.81 618.84,622.72 619.46,617.53 620.08,612.23 620.70,606.83 621.33,601.30 621.96,595.66 622.60,589.88 623.24,583.98 623.88,577.94 624.52,571.75 625.15,565.41 625.79,558.91 626.41,552.24 627.04,545.40 627.65,538.36 628.25,531.14 628.83,523.70 629.39,516.04 629.92,508.15 630.43,500.00 630.89,491.60 631.31,482.90 631.67,473.91 631.96,464.59 632.17,454.92 632.27,444.87 632.25,434.42 632.07,423.52 631.71,412.14 631.11,400.24 630.24,387.76 629.01,374.64 627.34,360.83 625.13,346.22 622.22,330.75 618.43,314.28 613.51,296.69 607.16,277.81 598.97,257.43 588.47,235.31 575.12,211.11 558.43,184.39 538.08,154.59 514.05,120.88 486.68,82.10 456.52,36.42" class="moist"/>
<polyline points="652.56,642.50 653.42,637.70 654.29,632.80 655.18,627.81 656.08,622.72 657.00,617.53 657.95,612.23 658.90,606.83 659.88,601.30 660.88,595.66 661.90,589.88 662.93,583.98 663.99,577.94 665.07,571.75 666.17,565.41 667.29,558.91 668.44,552.24 669.60,545.40 670.79,538.36 672.01,531.14 673.24,523.70 674.50,516.04 675.78,508.15 677.08,500.00 678.40,491.60 679.74,482.90 681.10,473.91 682.47,464.59 683.85,454.92 685.24,444.87 686.63,434.42 688.01,423.52 689.38,412.14 690.71,400.24 691.99,387.76 693.20,374.64 694.30,360.83 695.26,346.22 696.00,330.75 696.46,314.28 696.51,296.69 696.01,277.81 694.71,257.43 692.28,235.31 688.21,211.11 681.74,184.39 671.76,154.59 656.72,120.88 634.80,82.10 604.75,36.42" class="moist"/>
<polyline points="688.84,642.50 689.90,637.70 690.99,632.80 692.10,627.81 693.23,622.72 694.39,617.53 695.58,612.23 696.80,606.83 698.04,601.30 699.32,595.66 700.63,589.88 701.97,583.98 703.35,577.94 704.76,571.75 706.21,565.41 707.70,558.91 709.23,552.24 710.80,545.40 712.42,538.36 714.08,531.14 715.79,523.70 717.55,516.04 719.37,508.15 721.25,500.00 723.18,491.60 725.17,482.90 727.23,473.91 729.36,464.59 731.56,454.92 733.83,444.87 736.19,434.42 738.63,423.52 741.15,412.14 743.76,400.24 746.46,387.76 749.25,374.64 752.14,360.83 755.13,346.22 758.20,330.75 761.35,314.28 764.56,296.69 767.80,277.81 771.03,257.43 774.15,235.31 777.03,211.11 779.42,184.39 780.90,154.59 780.68,120.88 777.24,82.10 767.59,36.42" class="moist"/>
<polyline points="725.25,642.50 726.47,637.70 727.71,632.80 728.99,627.81 730.30,622.72 731.64,617.53 733.02,612.23 734.43,606.83 735.87,601.30 737.36,595.66 738.88,589.88 740.45,583.98 742.06,577.94 743.72,571.75 745.42,565.41 747.18,558.91 748.99,552.24 750.85,545.40 752.77,538.36 754.76,531.14 756.81,523.70 758.94,516.04 761.13,508.15 763.41,500.00 765.77,491.60 768.22,482.90 770.76,473.91 773.40,464.59 776.16,454.92 779.03,444.87 782.02,434.42 785.15,423.52 788.43,412.14 791.87,400.24 795.48,387.76 799.27,374.64 803.27,360.83 807.50,346.22 811.98,330.75 816.73,314.28 821.77,296.69 827.16,277.81 832.91,257.43 839.07,235.31 845.69,211.11 852.79,184.39 860.40,154.59 868.49,120.88 876.92,82.10 885.19,36.42" class="moist"/>
<polyline points="761.77,642.50 763.10,637.70 764.47,632.80 765.87,627.81 767.30,622.72 768.78,617.53 770.28,612.23 771.83,606.83 773.42,601.30 775.06,595.66 776.74,589.88 778.47,583.98 780.24,577.94 782.07,571.75 783.96,565.41 785.90,558.91 787.91,552.24 789.98,545.40 792.12,538.36 794.33,531.14 796.62,523.70 798.99,516.04 801.44,508.15 803.99,500.00 806.64,491.60 809.40,482.90 812.27,473.91 815.26,464.59 818.38,454.92 821.64,444.87 825.06,434.42 828.64,423.52 832.40,412.14 836.37,400.24 840.55,387.76 844.98,374.64 849.67,360.83 854.65,346.22 859.97,330.75 865.67,314.28 871.79,296.69 878.39,277.81 885.56,257.43 893.37,235.31 901.96,211.11 911.46,184.39 922.08,154.59 934.05,120.88 947.76,82.10 963.65,36.42" class="moist"/>
<polyline points="81.66,642.50 83.68,639.73 85.72,636.93 87.78,634.10 89.87,631.24 91.98,628.34 94.12,625.41 96.28,622.45 98.47,619.46 100.68,616.43 102.92,613.36 105.19,610.26 107.49,607.11 109.81,603.93 112.17,600.71 114.56,597.45 116.98,594.15 119.43,590.80 121.91,587.41 124.43,583.98 126.99,580.50 129.58,576.97 132.21,573.39 134.87,569.76 137.58,566.08 140.33,562.35 143.11,558.56 145.94,554.72 148.82,550.82 151.74,546.85 154.71,542.83 157.72,538.74 160.79,534.59 163.91,530.36 167.08,526.07 170.31,521.70 173.60,517.26 176.94,512.75 180.35,508.15 183.82,503.46 187.35,498.69 190.96,493.83 194.63,488.88 198.39,483.83 202.21,478.68 206.12,473.43 210.12,468.06 214.20,462.58 218.37,456.98 222.64,451.26" class="mix"/>
<polyline points="131.89,642.50 133.86,639.73 135.84,636.93 137.85,634.10 139.89,631.24 141.94,628.34 144.03,625.41 146.13,622.45 148.26,619.46 150.42,616.43 152.61,613.36 154.82,610.26 157.06,607.11 159.33,603.93 161.63,600.71 163.95,597.45 166.31,594.15 168.71,590.80 171.13,587.41 173.59,583.98 176.08,580.50 178.61,576.97 181.17,573.39 183.77,569.76 186.41,566.08 189.09,562.35 191.81,558.56 194.57,554.72 197.38,550.82 200.23,546.85 203.13,542.83 206.07,538.74 209.06,534.59 212.11,530.36 215.21,526.07 218.36,521.70 221.57,517.26 224.83,512.75 228.16,508.15 231.55,503.46 235.00,498.69 238.52,493.83 242.12,488.88 245.78,483.83 249.52,478.68 253.34,473.43 257.24,468.06 261.23,462.58 265.31,456.98 269.48,451.26" class="mix"/>
<polyline points="185.61,642.50 187.51,639.73 189.44,636.93 191.40,634.10 193.37,631.24 195.37,628.34 197.39,625.41 199.44,622.45 201.51,619.46 203.60,616.43 205.73,613.36 207.88,610.26 210.05,607.11 212.26,603.93 214.49,600.71 216.75,597.45 219.05,594.15 221.37,590.80 223.73,587.41 226.12,583.98 228.54,580.50 231.00,576.97 233.49,573.39 236.02,569.76 238.58,566.08 241.19,562.35 243.84,558.56 246.52,554.72 249.25,550.82 252.03,546.85 254.84,542.83 257.71,538.74 260.62,534.59 263.58,530.36 266.60,526.07 269.67,521.70 272.79,517.26 275.97,512.75 279.21,508.15 282.51,503.46 285.87,498.69 289.30,493.83 292.80,488.88 296.37,483.83 300.01,478.68 303.73,473.43 307.53,468.06 311.42,462.58 315.39,456.98 319.46,451.26" class="mix"/>
<polyline points="218.79,642.50 220.66,639.73 222.55,636.93 224.47,634.10 226.41,631.24 228.37,628.34 230.35,625.41 232.36,622.45 234.39,619.46 236.45,616.43 238.53,613.36 240.64,610.26 242.78,607.11 244.94,603.93 247.13,600.71 249.35,597.45 251.61,594.15 253.89,590.80 256.20,587.41 258.55,583.98 260.92,580.50 263.34,576.97 265.78,573.39 268.27,569.76 270.79,566.08 273.35,562.35 275.95,558.56 278.59,554.72 281.27,550.82 283.99,546.85 286.76,542.83 289.57,538.74 292.44,534.59 295.35,530.36 298.31,526.07 301.32,521.70 304.39,517.26 307.52,512.75 310.70,508.15 313.94,503.46 317.25,498.69 320.62,493.83 324.06,488.88 327.57,483.83 331.15,478.68 334.81,473.43 338.55,468.06 342.37,462.58 346.27,456.98 350.27,451.26" class="mix"/>
<polyline points="262.59,642.50 264.42,639.73 266.26,636.93 268.12,634.10 270.01,631.24 271.92,628.34 273.85,625.41 275.81,622.45 277.79,619.46 279.79,616.43 281.82,613.36 283.88,610.26 285.96,607.11 288.07,603.93 290.21,600.71 292.37,597.45 294.57,594.15 296.79,590.80 299.05,587.41 301.33,583.98 303.65,580.50 306.00,576.97 308.39,573.39 310.81,569.76 313.27,566.08 315.77,562.35 318.30,558.56 320.88,554.72 323.49,550.82 326.15,546.85 328.85,542.83 331.60,538.74 334.39,534.59 337.23,530.36 340.12,526.07 343.06,521.70 346.06,517.26 349.11,512.75 352.22,508.15 355.39,503.46 358.61,498.69 361.91,493.83 365.26,488.88 368.69,483.83 372.19,478.68 375.77,473.43 379.42,468.06 383.15,462.58 386.97,456.98 390.88,451.26" class="mix"/>
<polyline points="299.05,642.50 300.83,639.73 302.63,636.93 304.46,634.10 306.30,631.24 308.17,628.34 310.05,625.41 311.97,622.45 313.90,619.46 315.86,616.43 317.85,613.36 319.85,610.26 321.89,607.11 323.95,603.93 326.04,600.71 328.16,597.45 330.30,594.15 332.48,590.80 334.68,587.41 336.92,583.98 339.19,580.50 341.49,576.97 343.83,573.39 346.20,569.76 348.60,566.08 351.04,562.35 353.53,558.56 356.04,554.72 358.60,550.82 361.21,546.85 363.85,542.83 366.54,538.74 369.27,534.59 372.05,530.36 374.88,526.07 377.77,521.70 380.70,517.26 383.69,512.75 386.73,508.15 389.83,503.46 392.99,498.69 396.22,493.83 399.51,488.88 402.87,483.83 406.30,478.68 409.80,473.43 413.38,468.06 417.04,462.58 420.78,456.98 424.61,451.26" class="mix"/>
<polyline points="325.87,642.50 327.62,639.73 329.39,636.93 331.18,634.10 333.00,631.24 334.83,628.34 336.69,625.41 338.57,622.45 340.47,619.46 342.39,616.43 344.34,613.36 346.32,610.26 348.32,607.11 350.35,603.93 352.40,600.71 354.48,597.45 356.59,594.15 358.73,590.80 360.90,587.41 363.10,583.98 365.33,580.50 367.59,576.97 369.89,573.39 372.22,569.76 374.58,566.08 376.99,562.35 379.42,558.56 381.90,554.72 384.42,550.82 386.98,546.85 389.58,542.83 392.23,538.74 394.92,534.59 397.65,530.36 400.44,526.07 403.27,521.70 406.16,517.26 409.10,512.75 412.10,508.15 415.15,503.46 418.26,498.69 421.44,493.83 424.68,488.88 427.98,483.83 431.36,478.68 434.81,473.43 438.34,468.06 441.94,462.58 445.63,456.98 449.40,451.26" class="mix"/>
<polyline points="365.10,642.50 366.80,639.73 368.52,636.93 370.27,634.10 372.03,631.24 373.82,628.34 375.62,625.41 377.45,622.45 379.30,619.46 381.18,616.43 383.08,613.36 385.00,610.26 386.95,607.11 388.93,603.93 390.93,600.71 392.95,597.45 395.01,594.15 397.09,590.80 399.21,587.41 401.35,583.98 403.53,580.50 405.73,576.97 407.97,573.39 410.24,569.76 412.55,566.08 414.89,562.35 417.27,558.56 419.69,554.72 422.14,550.82 424.64,546.85 427.18,542.83 429.76,538.74 432.38,534.59 435.05,530.36 437.77,526.07 440.54,521.70 443.36,517.26 446.23,512.75 449.15,508.15 452.13,503.46 455.17,498.69 458.27,493.83 461.44,488.88 464.66,483.83 467.96,478.68 471.33,473.43 474.78,468.06 478.30,462.58 481.90,456.98 485.59,451.26" class="mix"/>
<polyline points="393.97,642.50 395.64,639.73 397.33,636.93 399.03,634.10 400.76,631.24 402.51,628.34 404.28,625.41 406.07,622.45 407.89,619.46 409.73,616.43 411.59,613.36 413.47,610.26 415.38,607.11 417.32,603.93 419.28,600.71 421.27,597.45 423.28,594.15 425.33,590.80 427.40,587.41 429.50,583.98 431.63,580.50 433.79,576.97 435.99,573.39 438.22,569.76 440.48,566.08 442.78,562.35 445.11,558.56 447.48,554.72 449.89,550.82 452.34,546.85 454.83,542.83 457.36,538.74 459.94,534.59 462.56,530.36 465.23,526.07 467.94,521.70 470.71,517.26 473.53,512.75 476.40,508.15 479.32,503.46 482.31,498.69 485.35,493.83 488.46,488.88 491.63,483.83 494.87,478.68 498.18,473.43 501.57,468.06 505.02,462.58 508.56,456.98 512.19,451.26" class="mix"/>
<polyline points="436.20,642.50 437.82,639.73 439.45,636.93 441.11,634.10 442.78,631.24 444.48,628.34 446.19,625.41 447.93,622.45 449.69,619.46 451.47,616.43 453.27,613.36 455.10,610.26 456.95,607.11 458.83,603.93 460.73,600.71 462.66,597.45 464.61,594.15 466.60,590.80 468.61,587.41 470.65,583.98 472.71,580.50 474.81,576.97 476.95,573.39 479.11,569.76 481.30,566.08 483.54,562.35 485.80,558.56 488.10,554.72 490.44,550.82 492.82,546.85 495.24,542.83 497.70,538.74 500.20,534.59 502.75,530.36 505.34,526.07 507.98,521.70 510.67,517.26 513.41,512.75 516.20,508.15 519.05,503.46 521.95,498.69 524.91,493.83 527.94,488.88 531.02,483.83 534.17,478.68 537.39,473.43 540.69,468.06 544.05,462.58 547.50,456.98 551.03,451.26" class="mix"/>
<polyline points="467.28,642.50 468.86,639.73 470.45,636.93 472.07,634.10 473.70,631.24 475.36,628.34 477.03,625.41 478.73,622.45 480.44,619.46 482.18,616.43 483.94,613.36 485.73,610.26 487.54,607.11 489.37,603.93 491.23,600.71 493.11,597.45 495.02,594.15 496.96,590.80 498.92,587.41 500.91,583.98 502.94,580.50 504.99,576.97 507.07,573.39 509.18,569.76 511.33,566.08 513.51,562.35 515.73,558.56 517.98,554.72 520.27,550.82 522.59,546.85 524.96,542.83 527.36,538.74 529.81,534.59 532.30,530.36 534.84,526.07 537.42,521.70 540.05,517.26 542.73,512.75 545.46,508.15 548.25,503.46 551.09,498.69 553.99,493.83 556.95,488.88 559.97,483.83 563.06,478.68 566.21,473.43 569.44,468.06 572.74,462.58 576.11,456.98 579.57,451.26" class="mix"/>
<polyline points="492.04,642.50 493.58,639.73 495.15,636.93 496.73,634.10 498.33,631.24 499.95,628.34 501.59,625.41 503.26,622.45 504.94,619.46 506.65,616.43 508.37,613.36 510.12,610.26 511.90,607.11 513.69,603.93 515.52,600.71 517.36,597.45 519.23,594.15 521.13,590.80 523.06,587.41 525.02,583.98 527.00,580.50 529.01,576.97 531.05,573.39 533.13,569.76 535.24,566.08 537.38,562.35 539.55,558.56 541.76,554.72 544.01,550.82 546.29,546.85 548.61,542.83 550.97,538.74 553.38,534.59 555.83,530.36 558.32,526.07 560.85,521.70 563.44,517.26 566.07,512.75 568.75,508.15 571.49,503.46 574.28,498.69 577.13,493.83 580.04,488.88 583.01,483.83 586.04,478.68 589.14,473.43 592.31,468.06 595.56,462.58 598.88,456.98 602.27,451.26" class="mix"/>
<polyline points="521.88,642.50 523.38,639.73 524.91,636.93 526.45,634.10 528.01,631.24 529.60,628.34 531.20,625.41 532.82,622.45 534.46,619.46 536.12,616.43 537.81,613.36 539.52,610.26 541.25,607.11 543.00,603.93 544.78,600.71 546.58,597.45 548.41,594.15 550.26,590.80 552.14,587.41 554.05,583.98 555.99,580.50 557.95,576.97 559.95,573.39 561.98,569.76 564.03,566.08 566.13,562.35 568.25,558.56 570.41,554.72 572.60,550.82 574.83,546.85 577.10,542.83 579.41,538.74 581.76,534.59 584.16,530.36 586.59,526.07 589.07,521.70 591.60,517.26 594.17,512.75 596.80,508.15 599.47,503.46 602.21,498.69 604.99,493.83 607.84,488.88 610.74,483.83 613.71,478.68 616.75,473.43 619.85,468.06 623.03,462.58 626.28,456.98 629.61,451.26" class="mix"/>
<polyline points="546.05,642.50 547.52,639.73 549.02,636.93 550.53,634.10 552.06,631.24 553.61,628.34 555.17,625.41 556.76,622.45 558.37,619.46 560.00,616.43 561.65,613.36 563.32,610.26 565.02,607.11 566.74,603.93 568.48,600.71 570.24,597.45 572.03,594.15 573.85,590.80 575.69,587.41 577.57,583.98 579.46,580.50 581.39,576.97 583.35,573.39 585.33,569.76 587.35,566.08 589.40,562.35 591.48,558.56 593.60,554.72 595.75,550.82 597.94,546.85 600.17,542.83 602.44,538.74 604.74,534.59 607.09,530.36 609.48,526.07 611.91,521.70 614.39,517.26 616.92,512.75 619.50,508.15 622.12,503.46 624.81,498.69 627.54,493.83 630.34,488.88 633.19,483.83 636.11,478.68 639.09,473.43 642.14,468.06 645.26,462.58 648.45,456.98 651.72,451.26" class="mix"/>
<polyline points="572.56,642.50 574.00,639.73 575.46,636.93 576.93,634.10 578.43,631.24 579.94,628.34 581.47,625.41 583.02,622.45 584.59,619.46 586.18,616.43 587.79,613.36 589.43,610.26 591.08,607.11 592.76,603.93 594.46,600.71 596.19,597.45 597.94,594.15 599.72,590.80 601.52,587.41 603.35,583.98 605.20,580.50 607.09,576.97 609.00,573.39 610.94,569.76 612.91,566.08 614.92,562.35 616.96,558.56 619.03,554.72 621.13,550.82 623.28,546.85 625.45,542.83 627.67,538.74 629.93,534.59 632.22,530.36 634.56,526.07 636.95,521.70 639.37,517.26 641.85,512.75 644.37,508.15 646.95,503.46 649.57,498.69 652.25,493.83 654.99,488.88 657.79,483.83 660.64,478.68 663.57,473.43 666.55,468.06 669.61,462.58 672.74,456.98 675.95,451.26" class="mix"/>
<polyline points="599.61,642.50 601.02,639.73 602.44,636.93 603.87,634.10 605.33,631.24 606.80,628.34 608.30,625.41 609.81,622.45 611.34,619.46 612.89,616.43 614.46,613.36 616.06,610.26 617.67,607.11 619.31,603.93 620.97,600.71 622.66,597.45 624.36,594.15 626.10,590.80 627.86,587.41 629.64,583.98 631.45,580.50 633.29,576.97 635.16,573.39 637.06,569.76 638.98,566.08 640.94,562.35 642.93,558.56 644.96,554.72 647.01,550.82 649.11,546.85 651.23,542.83 653.40,538.74 655.61,534.59 657.85,530.36 660.14,526.07 662.47,521.70 664.84,517.26 667.26,512.75 669.73,508.15 672.25,503.46 674.82,498.69 677.44,493.83 680.12,488.88 682.86,483.83 685.65,478.68 688.51,473.43 691.44,468.06 694.43,462.58 697.50,456.98 700.64,451.26" class="mix"/>
<polyline points="622.09,642.50 623.47,639.73 624.85,636.93 626.26,634.10 627.68,631.24 629.13,628.34 630.59,625.41 632.07,622.45 633.57,619.46 635.08,616.43 636.62,613.36 638.18,610.26 639.76,607.11 641.37,603.93 642.99,600.71 644.64,597.45 646.32,594.15 648.01,590.80 649.74,587.41 651.48,583.98 653.26,580.50 655.06,576.97 656.89,573.39 658.75,569.76 660.64,566.08 662.56,562.35 664.51,558.56 666.49,554.72 668.51,550.82 670.56,546.85 672.65,542.83 674.77,538.74 676.93,534.59 679.13,530.36 681.38,526.07 683.66,521.70 685.99,517.26 688.37,512.75 690.79,508.15 693.26,503.46 695.78,498.69 698.36,493.83 700.98,488.88 703.67,483.83 706.42,478.68 709.23,473.43 712.10,468.06 715.04,462.58 718.05,456.98 721.14,451.26" class="mix"/>
<polyline points="644.89,642.50 646.23,639.73 647.58,636.93 648.96,634.10 650.35,631.24 651.76,628.34 653.19,625.41 654.63,622.45 656.10,619.46 657.58,616.43 659.09,613.36 660.61,610.26 662.16,607.11 663.73,603.93 665.32,600.71 666.93,597.45 668.57,594.15 670.23,590.80 671.91,587.41 673.62,583.98 675.36,580.50 677.12,576.97 678.92,573.39 680.74,569.76 682.58,566.08 684.46,562.35 686.37,558.56 688.32,554.72 690.29,550.82 692.30,546.85 694.34,542.83 696.43,538.74 698.54,534.59 700.70,530.36 702.90,526.07 705.14,521.70 707.42,517.26 709.75,512.75 712.12,508.15 714.55,503.46 717.02,498.69 719.54,493.83 722.12,488.88 724.76,483.83 727.45,478.68 730.21,473.43 733.03,468.06 735.91,462.58 738.87,456.98 741.90,451.26" class="mix"/>
<polyline points="664.38,642.50 665.69,639.73 667.02,636.93 668.37,634.10 669.73,631.24 671.12,628.34 672.51,625.41 673.93,622.45 675.37,619.46 676.82,616.43 678.30,613.36 679.79,610.26 681.31,607.11 682.85,603.93 684.41,600.71 685.99,597.45 687.59,594.15 689.22,590.80 690.88,587.41 692.55,583.98 694.26,580.50 695.99,576.97 697.75,573.39 699.53,569.76 701.35,566.08 703.19,562.35 705.07,558.56 706.97,554.72 708.91,550.82 710.88,546.85 712.89,542.83 714.94,538.74 717.02,534.59 719.14,530.36 721.30,526.07 723.50,521.70 725.74,517.26 728.03,512.75 730.36,508.15 732.74,503.46 735.17,498.69 737.65,493.83 740.19,488.88 742.78,483.83 745.43,478.68 748.14,473.43 750.91,468.06 753.75,462.58 756.66,456.98 759.64,451.26" class="mix"/>
</g>
<g clip-path="url(#ax)">
<text x="0" y="0" transform="translate(222.04 440.28) rotate(-30.00)" dy="4.48" text-anchor="middle" font-size="12.52" font-weight="bold" fill="#1e90ff" textLength="21.79" lengthAdjust="spacingAndGlyphs">0.1</text>
<text x="0" y="0" transform="translate(268.88 440.28) rotate(-30.00)" dy="4.48" text-anchor="middle" font-size="12.52" font-weight="bold" fill="#1e90ff" textLength="21.79" lengthAdjust="spacingAndGlyphs">0.2</text>
<text x="0" y="0" transform="translate(318.86 440.28) rotate(-30.00)" dy="4.48" text-anchor="middle" font-size="12.52" font-weight="bold" fill="#1e90ff" textLength="21.79" lengthAdjust="spacingAndGlyphs">0.4</text>
<text x="0" y="0" transform="translate(349.67 440.28) rotate(-30.00)" dy="4.48" text-anchor="middle" font-size="12.52" font-weight="bold" fill="#1e90ff" textLength="21.79" lengthAdjust="spacingAndGlyphs">0.6</text>
<text x="0" y="0" transform="translate(390.28 443.86) rotate(-30.00)" dy="4.48" text-anchor="middle" font-size="12.52" font-weight="bold" fill="#1e90ff" textLength="8.56" lengthAdjust="spacingAndGlyphs">1</text>
<text x="0" y="0" transform="translate(424.01 440.28) rotate(-30.00)" dy="4.48" text-anchor="middle" font-size="12.52" font-weight="bold" fill="#1e90ff" textLength="21.79" lengthAdjust="spacingAndGlyphs">1.5</text>
<text x="0" y="0" transform="translate(448.80 443.86) rotate(-30.00)" dy="4.48" text-anchor="middle" font-size="12.52" font-weight="bold" fill="#1e90ff" textLength="8.56" lengthAdjust="spacingAndGlyphs">2</text>
<text x="0" y="0" transform="translate(484.99 443.86) rotate(-30.00)" dy="4.48" text-anchor="middle" font-size="12.52" font-weight="bold" fill="#1e90ff" textLength="8.56" lengthAdjust="spacingAndGlyphs">3</text>
<text x="0" y="0" transform="translate(511.59 443.86) rotate(-30.00)" dy="4.48" text-anchor="middle" font-size="12.52" font-weight="bold" fill="#1e90ff" textLength="8.56" lengthAdjust="spacingAndGlyphs">4</text>
<text x="0" y="0" transform="translate(550.43 443.86) rotate(-30.00)" dy="4.48" text-anchor="middle" font-size="12.52" font-weight="bold" fill="#1e90ff" textLength="8.56" lengthAdjust="spacingAndGlyphs">6</text>
<text x="0" y="0" transform="translate(578.97 443.86) rotate(-30.00)" dy="4.48" text-anchor="middle" font-size="12.52" font-weight="bold" fill="#1e90ff" textLength="8.56" lengthAdjust="spacingAndGlyphs">8</text>
<text x="0" y="0" transform="translate(601.67 441.54) rotate(-30.00)" dy="4.48" text-anchor="middle" font-size="12.52" font-weight="bold" fill="#1e90ff" textLength="17.12" lengthAdjust="spacingAndGlyphs">10</text>
<text x="0" y="0" transform="translate(629.01 441.54) rotate(-30.00)" dy="4.48" text-anchor="middle" font-size="12.52" font-weight="bold" fill="#1e90ff" textLength="17.12" lengthAdjust="spacingAndGlyphs">13</text>
<text x="0" y="0" transform="translate(651.12 441.54) rotate(-30.00)" dy="4.48" text-anchor="middle" font-size="12.52" font-weight="bold" fill="#1e90ff" textLength="17.12" lengthAdjust="spacingAndGlyphs">16</text>
<text x="0" y="0" transform="translate(675.35 441.54) rotate(-30.00)" dy="4.48" text-anchor="middle" font-size="12.52" font-weight="bold" fill="#1e90ff" textLength="17.12" lengthAdjust="spacingAndGlyphs">20</text>
<text x="0" y="0" transform="translate(700.04 441.54) rotate(-30.00)" dy="4.48" text-anchor="middle" font-size="12.52" font-weight="bold" fill="#1e90ff" textLength="17.12" lengthAdjust="spacingAndGlyphs">25</text>
<text x="0" y="0" transform="translate(720.54 441.54) rotate(-30.00)" dy="4.48" text-anchor="middle" font-size="12.52" font-weight="bold" fill="#1e90ff" textLength="17.12" lengthAdjust="spacingAndGlyphs">30</text>
<text x="0" y="0" transform="translate(741.30 441.54) rotate(-30.00)" dy="4.48" text-anchor="middle" font-size="12.52" font-weight="bold" fill="#1e90ff" textLength="17.12" lengthAdjust="spacingAndGlyphs">36</text>
<text x="0" y="0" transform="translate(759.04 441.54) rotate(-30.00)" dy="4.48" text-anchor="middle" font-size="12.52" font-weight="bold" fill="#1e90ff" textLength="17.12" lengthAdjust="spacingAndGlyphs">42</text>
<text x="0" y="0" transform="translate(237.34 53.21) rotate(-45.00)" dy="4.70" text-anchor="middle" font-size="13.13" font-weight="bold" fill="#1f77b4" textLength="32.28" lengthAdjust="spacingAndGlyphs">-100</text>
<text x="0" y="0" transform="translate(260.34 103.86) rotate(-45.00)" dy="4.70" text-anchor="middle" font-size="13.13" font-weight="bold" fill="#1f77b4" textLength="23.31" lengthAdjust="spacingAndGlyphs">-90</text>
<text x="0" y="0" transform="translate(286.03 151.82) rotate(-45.00)" dy="4.70" text-anchor="middle" font-size="13.13" font-weight="bold" fill="#1f77b4" textLength="23.31" lengthAdjust="spacingAndGlyphs">-80</text>
<text x="0" y="0" transform="translate(314.14 197.36) rotate(-45.00)" dy="4.70" text-anchor="middle" font-size="13.13" font-weight="bold" fill="#1f77b4" textLength="23.31" lengthAdjust="spacingAndGlyphs">-70</text>
<text x="0" y="0" transform="translate(344.44 240.71) rotate(-45.00)" dy="4.70" text-anchor="middle" font-size="13.13" font-weight="bold" fill="#1f77b4" textLength="23.31" lengthAdjust="spacingAndGlyphs">-60</text>
<text x="0" y="0" transform="translate(376.73 282.07) rotate(-45.00)" dy="4.70" text-anchor="middle" font-size="13.13" font-weight="bold" fill="#1f77b4" textLength="23.31" lengthAdjust="spacingAndGlyphs">-50</text>
<text x="0" y="0" transform="translate(410.83 321.62) rotate(-45.00)" dy="4.70" text-anchor="middle" font-size="13.13" font-weight="bold" fill="#1f77b4" textLength="23.31" lengthAdjust="spacingAndGlyphs">-40</text>
<text x="0" y="0" transform="translate(446.59 359.51) rotate(-45.00)" dy="4.70" text-anchor="middle" font-size="13.13" font-weight="bold" fill="#1f77b4" textLength="23.31" lengthAdjust="spacingAndGlyphs">-30</text>
<text x="0" y="0" transform="translate(483.88 395.87) rotate(-45.00)" dy="4.70" text-anchor="middle" font-size="13.13" font-weight="bold" fill="#1f77b4" textLength="23.31" lengthAdjust="spacingAndGlyphs">-20</text>
<text x="0" y="0" transform="translate(522.58 430.82) rotate(-45.00)" dy="4.70" text-anchor="middle" font-size="13.13" font-weight="bold" fill="#1f77b4" textLength="23.31" lengthAdjust="spacingAndGlyphs">-10</text>
<text x="0" y="0" transform="translate(562.59 464.46) rotate(-45.00)" dy="4.70" text-anchor="middle" font-size="13.13" font-weight="bold" fill="#7f7f7f" textLength="8.98" lengthAdjust="spacingAndGlyphs">0</text>
<text x="0" y="0" transform="translate(603.80 496.90) rotate(-45.00)" dy="4.70" text-anchor="middle" font-size="13.13" font-weight="bold" fill="#d62728" textLength="17.95" lengthAdjust="spacingAndGlyphs">10</text>
<text x="0" y="0" transform="translate(646.14 528.21) rotate(-45.00)" dy="4.70" text-anchor="middle" font-size="13.13" font-weight="bold" fill="#d62728" textLength="17.95" lengthAdjust="spacingAndGlyphs">20</text>
<text x="0" y="0" transform="translate(689.53 558.47) rotate(-45.00)" dy="4.70" text-anchor="middle" font-size="13.13" font-weight="bold" fill="#d62728" textLength="17.95" lengthAdjust="spacingAndGlyphs">30</text>
<text x="0" y="0" transform="translate(733.90 587.75) rotate(-45.00)" dy="4.70" text-anchor="middle" font-size="13.13" font-weight="bold" fill="#d62728" textLength="17.95" lengthAdjust="spacingAndGlyphs">40</text>
</g>
<g clip-path="url(#ax)">
<path d="M379.40,36.70 C379.07,38.33 377.87,43.83 377.40,46.50 C376.93,49.17 376.80,50.12 376.60,52.70 C376.40,55.28 376.27,58.90 376.20,62.00 C376.13,65.10 376.05,67.87 376.20,71.30 C376.35,74.73 376.53,78.83 377.10,82.60 C377.67,86.37 378.47,90.13 379.60,93.90 C380.73,97.67 382.33,101.43 383.90,105.20 C385.47,108.97 387.40,112.73 389.00,116.50 C390.60,120.27 391.98,124.05 393.50,127.80 C395.02,131.55 396.68,135.62 398.10,139.00 C399.52,142.38 400.40,144.90 402.00,148.10 C403.60,151.30 405.72,154.82 407.70,158.20 C409.68,161.58 412.02,165.18 413.90,168.40 C415.78,171.62 417.50,174.48 419.00,177.50 C420.50,180.52 421.80,183.50 422.90,186.50 C424.00,189.50 424.67,192.38 425.60,195.50 C426.53,198.62 427.60,202.08 428.50,205.20 C429.40,208.32 429.78,210.85 431.00,214.20 C432.22,217.55 433.87,221.75 435.80,225.30 C437.73,228.85 440.25,232.10 442.60,235.50 C444.95,238.90 447.63,242.32 449.90,245.70 C452.17,249.08 454.32,252.42 456.20,255.80 C458.08,259.18 459.70,262.60 461.20,266.00 C462.70,269.40 463.97,273.08 465.20,276.20 C466.43,279.32 466.90,280.68 468.60,284.70 C470.30,288.72 473.42,296.00 475.40,300.30 C477.38,304.60 478.90,307.38 480.50,310.50 C482.10,313.62 483.50,316.17 485.00,319.00 C486.50,321.83 488.18,324.58 489.50,327.50 C490.82,330.42 492.13,333.12 492.90,336.50 C493.67,339.88 493.62,343.40 494.10,347.80 C494.58,352.20 494.77,359.07 495.80,362.90 C496.83,366.73 498.60,368.17 500.30,370.80 C502.00,373.43 504.48,376.07 506.00,378.70 C507.52,381.33 508.37,383.97 509.40,386.60 C510.43,389.23 510.70,392.05 512.20,394.50 C513.70,396.95 516.05,398.85 518.40,401.30 C520.75,403.75 524.23,406.37 526.30,409.20 C528.37,412.03 529.95,415.28 530.80,418.30 C531.65,421.32 531.33,424.43 531.40,427.30 C531.47,430.17 530.72,432.78 531.20,435.50 C531.68,438.22 533.03,440.75 534.30,443.60 C535.57,446.45 537.20,449.40 538.80,452.60 C540.40,455.80 542.20,459.42 543.90,462.80 C545.60,466.18 547.30,469.33 549.00,472.90 C550.70,476.47 552.40,480.62 554.10,484.20 C555.80,487.78 557.68,490.85 559.20,494.40 C560.72,497.95 562.15,501.93 563.20,505.50 C564.25,509.07 565.18,512.57 565.50,515.80 C565.82,519.03 565.10,522.07 565.10,524.90 C565.10,527.73 565.37,530.37 565.50,532.80 C565.63,535.23 566.15,537.05 565.90,539.50 C565.65,541.95 564.57,545.05 564.00,547.50 C563.43,549.95 562.50,551.95 562.50,554.20 C562.50,556.45 563.57,558.73 564.00,561.00 C564.43,563.27 564.93,564.80 565.10,567.80 C565.27,570.80 564.63,575.62 565.00,579.00 C565.37,582.38 566.55,585.27 567.30,588.10 C568.05,590.93 569.22,593.55 569.50,596.00 C569.78,598.45 569.18,600.73 569.00,602.80 C568.82,604.87 567.93,606.52 568.40,608.40 C568.87,610.28 570.28,612.22 571.80,614.10 C573.32,615.98 575.52,617.92 577.50,619.70 C579.48,621.48 581.82,623.30 583.70,624.80 C585.58,626.30 587.95,628.05 588.80,628.70" fill="none" stroke="#ff0000" stroke-width="2.5" stroke-linecap="square" stroke-linejoin="round"/>
<path d="M379.40,36.70 C379.07,38.33 378.17,44.18 377.40,46.50 C376.63,48.82 375.67,49.05 374.80,50.60 C373.93,52.15 372.80,54.07 372.20,55.80 C371.60,57.53 371.37,58.42 371.20,61.00 C371.03,63.58 371.20,67.70 371.20,71.30 C371.20,74.90 371.63,79.22 371.20,82.60 C370.77,85.98 370.07,88.73 368.60,91.60 C367.13,94.47 364.95,96.90 362.40,99.80 C359.85,102.70 356.33,105.95 353.30,109.00 C350.27,112.05 347.03,114.90 344.20,118.10 C341.37,121.30 338.75,125.00 336.30,128.20 C333.85,131.40 331.75,134.28 329.50,137.30 C327.25,140.32 325.62,143.10 322.80,146.30 C319.98,149.50 316.00,153.48 312.60,156.50 C309.20,159.52 305.23,162.02 302.40,164.40 C299.57,166.78 297.37,168.62 295.60,170.80 C293.83,172.98 292.33,175.37 291.80,177.50 C291.27,179.63 290.98,181.65 292.40,183.60 C293.82,185.55 296.90,187.23 300.30,189.20 C303.70,191.17 308.65,193.23 312.80,195.40 C316.95,197.57 321.43,200.03 325.20,202.20 C328.97,204.37 332.38,206.23 335.40,208.40 C338.42,210.57 341.23,212.75 343.30,215.20 C345.37,217.65 346.95,220.47 347.80,223.10 C348.65,225.73 348.78,228.17 348.40,231.00 C348.02,233.83 346.48,237.77 345.50,240.10 C344.52,242.43 343.65,243.10 342.50,245.00 C341.35,246.90 339.45,248.87 338.60,251.50 C337.75,254.13 337.32,257.55 337.40,260.80 C337.48,264.05 339.10,267.80 339.10,271.00 C339.10,274.20 338.53,276.80 337.40,280.00 C336.27,283.20 334.00,287.00 332.30,290.20 C330.60,293.40 328.33,296.00 327.20,299.20 C326.07,302.40 326.35,306.38 325.50,309.40 C324.65,312.42 323.52,315.17 322.10,317.30 C320.68,319.43 318.52,320.83 317.00,322.20 C315.48,323.57 314.05,324.07 313.00,325.50 C311.95,326.93 310.42,329.17 310.70,330.80 C310.98,332.43 312.72,334.07 314.70,335.30 C316.68,336.53 319.40,337.15 322.60,338.20 C325.80,339.25 329.75,340.48 333.90,341.60 C338.05,342.72 342.80,343.68 347.50,344.90 C352.20,346.12 358.35,347.85 362.10,348.90 C365.85,349.95 366.85,350.25 370.00,351.20 C373.15,352.15 377.23,353.08 381.00,354.60 C384.77,356.12 389.53,358.32 392.60,360.30 C395.67,362.28 397.80,364.15 399.40,366.50 C401.00,368.85 400.70,372.15 402.20,374.40 C403.70,376.65 405.48,378.22 408.40,380.00 C411.32,381.78 416.30,383.50 419.70,385.10 C423.10,386.70 426.82,388.00 428.80,389.60 C430.78,391.20 431.60,392.72 431.60,394.70 C431.60,396.68 430.97,399.43 428.80,401.50 C426.63,403.57 422.37,405.22 418.60,407.10 C414.83,408.98 409.55,410.92 406.20,412.80 C402.85,414.68 400.02,416.53 398.50,418.40 C396.98,420.27 396.68,422.12 397.10,424.00 C397.52,425.88 399.40,427.82 401.00,429.70 C402.60,431.58 405.75,433.42 406.70,435.30 C407.65,437.18 407.47,438.92 406.70,441.00 C405.93,443.08 403.80,445.63 402.10,447.80 C400.40,449.97 398.75,452.12 396.50,454.00 C394.25,455.88 391.62,457.50 388.60,459.10 C385.58,460.70 382.73,461.92 378.40,463.60 C374.07,465.28 367.33,467.55 362.60,469.20 C357.87,470.85 354.02,472.15 350.00,473.50 C345.98,474.85 342.42,475.98 338.50,477.30 C334.58,478.62 330.00,479.97 326.50,481.40 C323.00,482.83 319.48,484.40 317.50,485.90 C315.52,487.40 315.55,488.52 314.60,490.40 C313.65,492.28 313.20,495.32 311.80,497.20 C310.40,499.08 308.65,500.28 306.20,501.70 C303.75,503.12 300.50,504.38 297.10,505.70 C293.70,507.02 288.15,508.57 285.80,509.60 C283.45,510.63 282.62,511.13 283.00,511.90 C283.38,512.67 284.62,513.45 288.10,514.20 C291.58,514.95 298.45,515.75 303.90,516.40 C309.35,517.05 315.15,517.53 320.80,518.10 C326.45,518.67 332.93,519.33 337.80,519.80 C342.67,520.27 346.08,520.58 350.00,520.90 C353.92,521.22 356.60,521.33 361.30,521.70 C366.00,522.07 372.55,522.50 378.20,523.10 C383.85,523.70 389.92,524.45 395.20,525.30 C400.48,526.15 405.75,527.35 409.90,528.20 C414.05,529.05 417.75,529.47 420.10,530.40 C422.45,531.33 424.00,532.67 424.00,533.80 C424.00,534.93 421.55,536.07 420.10,537.20 C418.65,538.33 415.68,539.47 415.30,540.60 C414.92,541.73 415.68,542.77 417.80,544.00 C419.92,545.23 424.92,547.05 428.00,548.00 C431.08,548.95 432.65,548.67 436.30,549.70 C439.95,550.73 445.75,552.88 449.90,554.20 C454.05,555.52 457.82,556.57 461.20,557.60 C464.58,558.63 467.95,559.18 470.20,560.40 C472.45,561.62 472.82,563.48 474.70,564.90 C476.58,566.32 478.48,567.48 481.50,568.90 C484.52,570.32 489.98,572.08 492.80,573.40 C495.62,574.72 496.42,575.48 498.40,576.80 C500.38,578.12 502.33,579.80 504.70,581.30 C507.07,582.80 510.35,584.02 512.60,585.80 C514.85,587.58 515.57,589.65 518.20,592.00 C520.83,594.35 525.57,597.45 528.40,599.90 C531.23,602.35 532.93,604.43 535.20,606.70 C537.47,608.97 540.30,611.52 542.00,613.50 C543.70,615.48 544.83,616.10 545.40,618.60 C545.97,621.10 545.40,626.85 545.40,628.50" fill="none" stroke="#008000" stroke-width="2.5" stroke-linecap="square" stroke-linejoin="round"/>
</g>
<rect x="90.5" y="36.5" width="663" height="606" fill="none" stroke="#000" stroke-width="1.33"/>
<line x1="84.62" y1="36.50" x2="90.45" y2="36.50" stroke="#000" stroke-width="1.33"/>
<text x="0" y="0" transform="translate(79.60 43.72) rotate(0.00)" text-anchor="end" font-size="17.74" fill="#000" textLength="31.82" lengthAdjust="spacingAndGlyphs">100</text>
<line x1="84.62" y1="215.50" x2="90.45" y2="215.50" stroke="#000" stroke-width="1.33"/>
<text x="0" y="0" transform="translate(79.60 222.38) rotate(0.00)" text-anchor="end" font-size="17.74" fill="#000" textLength="31.82" lengthAdjust="spacingAndGlyphs">200</text>
<line x1="84.62" y1="319.50" x2="90.45" y2="319.50" stroke="#000" stroke-width="1.33"/>
<text x="0" y="0" transform="translate(79.60 326.89) rotate(0.00)" text-anchor="end" font-size="17.74" fill="#000" textLength="31.82" lengthAdjust="spacingAndGlyphs">300</text>
<line x1="84.62" y1="393.50" x2="90.45" y2="393.50" stroke="#000" stroke-width="1.33"/>
<text x="0" y="0" transform="translate(79.60 401.05) rotate(0.00)" text-anchor="end" font-size="17.74" fill="#000" textLength="31.82" lengthAdjust="spacingAndGlyphs">400</text>
<line x1="84.62" y1="451.50" x2="90.45" y2="451.50" stroke="#000" stroke-width="1.33"/>
<text x="0" y="0" transform="translate(79.60 458.56) rotate(0.00)" text-anchor="end" font-size="17.74" fill="#000" textLength="31.82" lengthAdjust="spacingAndGlyphs">500</text>
<line x1="84.62" y1="498.50" x2="90.45" y2="498.50" stroke="#000" stroke-width="1.33"/>
<text x="0" y="0" transform="translate(79.60 505.56) rotate(0.00)" text-anchor="end" font-size="17.74" fill="#000" textLength="31.82" lengthAdjust="spacingAndGlyphs">600</text>
<line x1="84.62" y1="537.50" x2="90.45" y2="537.50" stroke="#000" stroke-width="1.33"/>
<text x="0" y="0" transform="translate(79.60 545.29) rotate(0.00)" text-anchor="end" font-size="17.74" fill="#000" textLength="31.82" lengthAdjust="spacingAndGlyphs">700</text>
<line x1="84.62" y1="572.50" x2="90.45" y2="572.50" stroke="#000" stroke-width="1.33"/>
<text x="0" y="0" transform="translate(79.60 579.71) rotate(0.00)" text-anchor="end" font-size="17.74" fill="#000" textLength="31.82" lengthAdjust="spacingAndGlyphs">800</text>
<line x1="84.62" y1="602.50" x2="90.45" y2="602.50" stroke="#000" stroke-width="1.33"/>
<text x="0" y="0" transform="translate(79.60 610.07) rotate(0.00)" text-anchor="end" font-size="17.74" fill="#000" textLength="31.82" lengthAdjust="spacingAndGlyphs">900</text>
<line x1="84.62" y1="629.50" x2="90.45" y2="629.50" stroke="#000" stroke-width="1.33"/>
<text x="0" y="0" transform="translate(79.60 637.22) rotate(0.00)" text-anchor="end" font-size="17.74" fill="#000" textLength="42.42" lengthAdjust="spacingAndGlyphs">1000</text>
<line x1="90.50" y1="642.50" x2="90.50" y2="648.33" stroke="#000" stroke-width="1.33"/>
<text x="0" y="0" transform="translate(91.25 667.60) rotate(0.00)" text-anchor="middle" font-size="17.74" fill="#000" textLength="35.18" lengthAdjust="spacingAndGlyphs">−40</text>
<line x1="164.50" y1="642.50" x2="164.50" y2="648.33" stroke="#000" stroke-width="1.33"/>
<text x="0" y="0" transform="translate(164.90 667.60) rotate(0.00)" text-anchor="middle" font-size="17.74" fill="#000" textLength="35.18" lengthAdjust="spacingAndGlyphs">−30</text>
<line x1="237.50" y1="642.50" x2="237.50" y2="648.33" stroke="#000" stroke-width="1.33"/>
<text x="0" y="0" transform="translate(238.55 667.60) rotate(0.00)" text-anchor="middle" font-size="17.74" fill="#000" textLength="35.18" lengthAdjust="spacingAndGlyphs">−20</text>
<line x1="311.50" y1="642.50" x2="311.50" y2="648.33" stroke="#000" stroke-width="1.33"/>
<text x="0" y="0" transform="translate(312.20 667.60) rotate(0.00)" text-anchor="middle" font-size="17.74" fill="#000" textLength="35.18" lengthAdjust="spacingAndGlyphs">−10</text>
<line x1="385.50" y1="642.50" x2="385.50" y2="648.33" stroke="#000" stroke-width="1.33"/>
<text x="0" y="0" transform="translate(385.85 667.60) rotate(0.00)" text-anchor="middle" font-size="17.74" fill="#000" textLength="10.61" lengthAdjust="spacingAndGlyphs">0</text>
<line x1="458.50" y1="642.50" x2="458.50" y2="648.33" stroke="#000" stroke-width="1.33"/>
<text x="0" y="0" transform="translate(459.50 667.60) rotate(0.00)" text-anchor="middle" font-size="17.74" fill="#000" textLength="21.21" lengthAdjust="spacingAndGlyphs">10</text>
<line x1="532.50" y1="642.50" x2="532.50" y2="648.33" stroke="#000" stroke-width="1.33"/>
<text x="0" y="0" transform="translate(533.15 667.60) rotate(0.00)" text-anchor="middle" font-size="17.74" fill="#000" textLength="21.21" lengthAdjust="spacingAndGlyphs">20</text>
<line x1="606.50" y1="642.50" x2="606.50" y2="648.33" stroke="#000" stroke-width="1.33"/>
<text x="0" y="0" transform="translate(606.80 667.60) rotate(0.00)" text-anchor="middle" font-size="17.74" fill="#000" textLength="21.21" lengthAdjust="spacingAndGlyphs">30</text>
<line x1="679.50" y1="642.50" x2="679.50" y2="648.33" stroke="#000" stroke-width="1.33"/>
<text x="0" y="0" transform="translate(680.45 667.60) rotate(0.00)" text-anchor="middle" font-size="17.74" fill="#000" textLength="21.21" lengthAdjust="spacingAndGlyphs">40</text>
<line x1="753.50" y1="642.50" x2="753.50" y2="648.33" stroke="#000" stroke-width="1.33"/>
<text x="0" y="0" transform="translate(754.10 667.60) rotate(0.00)" text-anchor="middle" font-size="17.74" fill="#000" textLength="21.21" lengthAdjust="spacingAndGlyphs">50</text>
<text x="0" y="0" transform="translate(421.50 692.20) rotate(0.00)" text-anchor="middle" font-size="17.74" fill="#000" textLength="143.88" lengthAdjust="spacingAndGlyphs">Temperature (°C)</text>
<text x="0" y="0" transform="translate(24.50 339.70) rotate(-90.00)" text-anchor="middle" font-size="17.74" fill="#000" textLength="119.57" lengthAdjust="spacingAndGlyphs">Pressure (hPa)</text>
<text x="0" y="0" transform="translate(421.90 26.60) rotate(0.00)" text-anchor="middle" font-size="19.20" fill="#000" textLength="343.09" lengthAdjust="spacingAndGlyphs">wetPf2_C2E6.2021.059.00.42.G02</text>
</svg></body></html>
